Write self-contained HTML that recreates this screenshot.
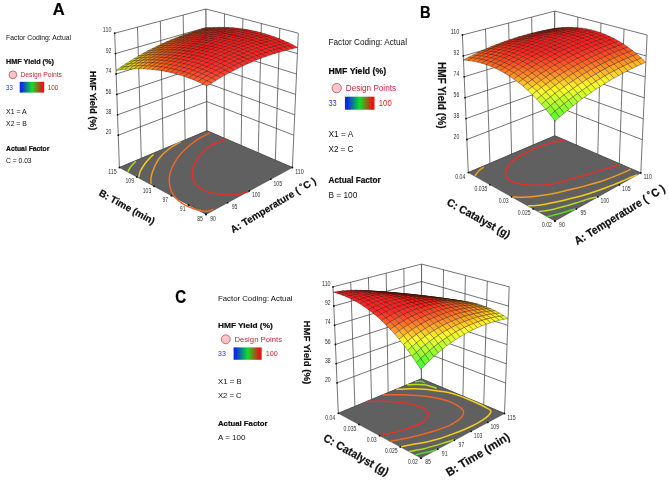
<!DOCTYPE html>
<html lang="en"><head><meta charset="utf-8"><title>HMF Yield response surfaces</title>
<style>html,body{margin:0;padding:0;background:#fff}svg{display:block}</style></head>
<body>
<svg width="669" height="481" viewBox="0 0 669 481" font-family='"Liberation Sans", sans-serif'>
<defs><linearGradient id="lg" x1="0" x2="1" y1="0" y2="0"><stop offset="0" stop-color="#0a2ae6"/><stop offset="0.08" stop-color="#0a2ae6"/><stop offset="0.5" stop-color="#10e028"/><stop offset="0.92" stop-color="#e61414"/><stop offset="1" stop-color="#e61414"/></linearGradient><filter id="soft" x="0" y="0" width="669" height="481" filterUnits="userSpaceOnUse"><feGaussianBlur stdDeviation="0.38"/></filter></defs>
<rect width="669" height="481" fill="#fff"/>
<g filter="url(#soft)">
<polygon points="119.4,167.5 207,130.8 206,9 114.7,33.2" fill="#fff" stroke="#3a3a3a" stroke-width="0.7"/>
<polygon points="207,130.8 292.4,167.5 298.3,33.2 206,9" fill="#fff" stroke="#3a3a3a" stroke-width="0.7"/>
<path d="M141.3 158.32L137.53 27.15M163.2 149.15L160.35 21.1M185.1 139.98L183.18 15.05M275.32 160.16L279.84 28.36M258.24 152.82L261.38 23.52M241.16 145.48L242.92 18.68M224.08 138.14L224.46 13.84M115.41 53.6L206.15 27.5L297.4 53.6M116.13 74L206.3 46L296.51 74M116.84 94.4L206.46 64.5L295.61 94.4M117.56 114.8L206.61 83.01L294.72 114.8M118.27 135.2L206.76 101.51L293.82 135.2" fill="none" stroke="#3a3a3a" stroke-width="0.7"/>
<polygon points="206,214.4 292.4,167.5 207,130.8 119.4,167.5" fill="#606060" stroke="#3a3a3a" stroke-width="0.5"/>
<path d="M127.8 171.6C128.37 170.68 129.87 167.82 131.2 166.1C132.53 164.38 135.03 162.1 135.8 161.3" fill="none" stroke="#b4dc22" stroke-width="1.5" stroke-linecap="butt"/>
<path d="M138.7 177.2C138.95 176.25 139.37 173.45 140.2 171.5C141.03 169.55 142.37 167.45 143.7 165.5C145.03 163.55 146.57 161.65 148.2 159.8C149.83 157.95 152.62 155.3 153.5 154.4" fill="none" stroke="#f2cc1c" stroke-width="1.5" stroke-linecap="butt"/>
<path d="M151.2 183.8C151.17 182.92 150.77 180.55 151 178.5C151.23 176.45 151.52 174.45 152.6 171.5C153.68 168.55 155.85 163.62 157.5 160.8C159.15 157.98 160.68 156.48 162.5 154.6C164.32 152.72 166.48 151 168.4 149.5C170.32 148 171.93 146.87 174 145.6C176.07 144.33 179.67 142.52 180.8 141.9" fill="none" stroke="#f29a20" stroke-width="1.5" stroke-linecap="butt"/>
<path d="M209.8 132.9C208.42 133.62 204.12 135.72 201.5 137.2C198.88 138.68 196.6 140 194.1 141.8C191.6 143.6 188.82 145.87 186.5 148C184.18 150.13 182.12 152.27 180.2 154.6C178.28 156.93 176.48 159.52 175 162C173.52 164.48 172.23 167 171.3 169.5C170.37 172 169.7 174.58 169.4 177C169.1 179.42 169.15 181.58 169.5 184C169.85 186.42 170.5 189.2 171.5 191.5C172.5 193.8 173.72 195.83 175.5 197.8C177.28 199.77 179.78 201.72 182.2 203.3C184.62 204.88 187.37 206.18 190 207.3C192.63 208.42 195.5 209.33 198 210C200.5 210.67 203.08 211.17 205 211.3C206.92 211.43 208.08 211.25 209.5 210.8C210.92 210.35 212.83 208.97 213.5 208.6" fill="none" stroke="#ee6428" stroke-width="1.5" stroke-linecap="butt"/>
<path d="M225.7 139.2C223.92 139.92 218.13 141.98 215 143.5C211.87 145.02 209.23 146.58 206.9 148.3C204.57 150.02 202.8 151.7 201 153.8C199.2 155.9 197.4 158.7 196.1 160.9C194.8 163.1 193.85 164.92 193.2 167C192.55 169.08 192.2 171.32 192.2 173.4C192.2 175.48 192.55 177.67 193.2 179.5C193.85 181.33 194.88 182.93 196.1 184.4C197.32 185.87 198.7 187.13 200.5 188.3C202.3 189.47 204.48 190.53 206.9 191.4C209.32 192.27 212.02 192.95 215 193.5C217.98 194.05 221.8 194.48 224.8 194.7C227.8 194.92 230.3 194.95 233 194.8C235.7 194.65 238.32 194.4 241 193.8C243.68 193.2 247.75 191.63 249.1 191.2" fill="none" stroke="#e0302c" stroke-width="1.5" stroke-linecap="butt"/>
<g stroke="#1c0c04" stroke-opacity="0.72" stroke-width="0.45" stroke-linejoin="round">
<polygon points="206.17,28.82 210.71,27.59 206.16,27.92 201.62,29.16" fill="#cb521a"/>
<polygon points="201.63,30.13 206.17,28.82 201.62,29.16 197.08,30.49" fill="#cc521a"/>
<polygon points="210.73,28.6 215.27,27.39 210.71,27.59 206.17,28.82" fill="#ce431a"/>
<polygon points="197.09,31.53 201.63,30.13 197.08,30.49 192.55,31.9" fill="#cd531a"/>
<polygon points="206.19,29.89 210.73,28.6 206.17,28.82 201.63,30.13" fill="#d0431a"/>
<polygon points="215.3,28.5 219.84,27.31 215.27,27.39 210.73,28.6" fill="#d2361a"/>
<polygon points="192.56,33.01 197.09,31.53 192.55,31.9 188.01,33.4" fill="#cf551a"/>
<polygon points="201.65,31.28 206.19,29.89 201.63,30.13 197.09,31.53" fill="#d1431a"/>
<polygon points="210.76,29.79 215.3,28.5 210.73,28.6 206.19,29.89" fill="#d4361a"/>
<polygon points="219.88,28.54 224.42,27.36 219.84,27.31 215.3,28.5" fill="#d62c1a"/>
<polygon points="188.02,34.59 192.56,33.01 188.01,33.4 183.48,34.99" fill="#d0581a"/>
<polygon points="197.11,32.75 201.65,31.28 197.09,31.53 192.56,33.01" fill="#d3451a"/>
<polygon points="206.22,31.15 210.76,29.79 206.19,29.89 201.65,31.28" fill="#d5361a"/>
<polygon points="215.33,29.81 219.88,28.54 215.3,28.5 210.76,29.79" fill="#d82b1a"/>
<polygon points="224.46,28.71 229,27.54 224.42,27.36 219.88,28.54" fill="#da231a"/>
<polygon points="183.49,36.25 188.02,34.59 183.48,34.99 178.95,36.67" fill="#d15b1a"/>
<polygon points="192.57,34.31 197.11,32.75 192.56,33.01 188.02,34.59" fill="#d4471a"/>
<polygon points="201.68,32.61 206.22,31.15 201.65,31.28 197.11,32.75" fill="#d7371a"/>
<polygon points="210.79,31.16 215.33,29.81 210.76,29.79 206.22,31.15" fill="#d92b1a"/>
<polygon points="219.92,29.96 224.46,28.71 219.88,28.54 215.33,29.81" fill="#db221a"/>
<polygon points="229.05,29.01 233.59,27.86 229,27.54 224.46,28.71" fill="#de1d1a"/>
<polygon points="178.96,38.01 183.49,36.25 178.95,36.67 174.43,38.44" fill="#d2601a"/>
<polygon points="188.04,35.96 192.57,34.31 188.02,34.59 183.49,36.25" fill="#d54a1a"/>
<polygon points="197.14,34.16 201.68,32.61 197.11,32.75 192.57,34.31" fill="#d8391a"/>
<polygon points="206.25,32.6 210.79,31.16 206.22,31.15 201.68,32.61" fill="#da2b1a"/>
<polygon points="215.37,31.3 219.92,29.96 215.33,29.81 210.79,31.16" fill="#dd221a"/>
<polygon points="224.5,30.25 229.05,29.01 224.46,28.71 219.92,29.96" fill="#df1c1a"/>
<polygon points="233.64,29.45 238.18,28.31 233.59,27.86 229.05,29.01" fill="#e11a1a"/>
<polygon points="174.43,39.86 178.96,38.01 174.43,38.44 169.9,40.31" fill="#d3661a"/>
<polygon points="183.5,37.7 188.04,35.96 183.49,36.25 178.96,38.01" fill="#d64e1a"/>
<polygon points="192.6,35.79 197.14,34.16 192.57,34.31 188.04,35.96" fill="#d93b1a"/>
<polygon points="201.71,34.13 206.25,32.6 201.68,32.61 197.14,34.16" fill="#dc2d1a"/>
<polygon points="210.83,32.73 215.37,31.3 210.79,31.16 206.25,32.6" fill="#de221a"/>
<polygon points="219.96,31.57 224.5,30.25 219.92,29.96 215.37,31.3" fill="#e11c1a"/>
<polygon points="229.1,30.67 233.64,29.45 229.05,29.01 224.5,30.25" fill="#e31a1a"/>
<polygon points="238.24,30.02 242.78,28.89 238.18,28.31 233.64,29.45" fill="#e51a1a"/>
<polygon points="169.91,41.81 174.43,39.86 169.9,40.31 165.38,42.27" fill="#d46d1a"/>
<polygon points="178.97,39.54 183.5,37.7 178.96,38.01 174.43,39.86" fill="#d7541a"/>
<polygon points="188.06,37.52 192.6,35.79 188.04,35.96 183.5,37.7" fill="#da3f1a"/>
<polygon points="197.16,35.76 201.71,34.13 197.14,34.16 192.6,35.79" fill="#dd2f1a"/>
<polygon points="206.28,34.25 210.83,32.73 206.25,32.6 201.71,34.13" fill="#e0231a"/>
<polygon points="215.41,32.99 219.96,31.57 215.37,31.3 210.83,32.73" fill="#e21c1a"/>
<polygon points="224.55,31.98 229.1,30.67 224.5,30.25 219.96,31.57" fill="#e41a1a"/>
<polygon points="233.69,31.23 238.24,30.02 233.64,29.45 229.1,30.67" fill="#e61a1a"/>
<polygon points="242.83,30.73 247.37,29.62 242.78,28.89 238.24,30.02" fill="#e81a1a"/>
<polygon points="165.39,43.85 169.91,41.81 165.38,42.27 160.87,44.32" fill="#d6761a"/>
<polygon points="174.45,41.47 178.97,39.54 174.43,39.86 169.91,41.81" fill="#d95a1a"/>
<polygon points="183.53,39.35 188.06,37.52 183.5,37.7 178.97,39.54" fill="#dc431a"/>
<polygon points="192.62,37.47 197.16,35.76 192.6,35.79 188.06,37.52" fill="#de321a"/>
<polygon points="201.74,35.86 206.28,34.25 201.71,34.13 197.16,35.76" fill="#e1241a"/>
<polygon points="210.87,34.49 215.41,32.99 210.83,32.73 206.28,34.25" fill="#e41c1a"/>
<polygon points="220,33.38 224.55,31.98 219.96,31.57 215.41,32.99" fill="#e61a1a"/>
<polygon points="229.14,32.53 233.69,31.23 229.1,30.67 224.55,31.98" fill="#e81a1a"/>
<polygon points="238.29,31.93 242.83,30.73 238.24,30.02 233.69,31.23" fill="#ea1a1a"/>
<polygon points="247.43,31.59 251.97,30.49 247.37,29.62 242.83,30.73" fill="#ec1a1a"/>
<polygon points="160.87,45.99 165.39,43.85 160.87,44.32 156.35,46.47" fill="#d7801a"/>
<polygon points="169.92,43.5 174.45,41.47 169.91,41.81 165.39,43.85" fill="#da621a"/>
<polygon points="178.99,41.26 183.53,39.35 178.97,39.54 174.45,41.47" fill="#dd491a"/>
<polygon points="188.09,39.28 192.62,37.47 188.06,37.52 183.53,39.35" fill="#e0351a"/>
<polygon points="197.2,37.56 201.74,35.86 197.16,35.76 192.62,37.47" fill="#e2271a"/>
<polygon points="206.32,36.09 210.87,34.49 206.28,34.25 201.74,35.86" fill="#e51d1a"/>
<polygon points="215.46,34.88 220,33.38 215.41,32.99 210.87,34.49" fill="#e71a1a"/>
<polygon points="224.6,33.92 229.14,32.53 224.55,31.98 220,33.38" fill="#e91a1a"/>
<polygon points="233.74,33.22 238.29,31.93 233.69,31.23 229.14,32.53" fill="#eb1a1a"/>
<polygon points="242.89,32.78 247.43,31.59 242.83,30.73 238.29,31.93" fill="#ed1a1a"/>
<polygon points="252.03,32.59 256.57,31.5 251.97,30.49 247.43,31.59" fill="#ef1a1a"/>
<polygon points="156.36,48.22 160.87,45.99 156.35,46.47 151.85,48.72" fill="#d88b1a"/>
<polygon points="165.4,45.63 169.92,43.5 165.39,43.85 160.87,45.99" fill="#db6b1a"/>
<polygon points="174.46,43.28 178.99,41.26 174.45,41.47 169.92,43.5" fill="#de501a"/>
<polygon points="183.55,41.19 188.09,39.28 183.53,39.35 178.99,41.26" fill="#e13a1a"/>
<polygon points="192.66,39.36 197.2,37.56 192.62,37.47 188.09,39.28" fill="#e42a1a"/>
<polygon points="201.78,37.78 206.32,36.09 201.74,35.86 197.2,37.56" fill="#e61f1a"/>
<polygon points="210.91,36.46 215.46,34.88 210.87,34.49 206.32,36.09" fill="#e91a1a"/>
<polygon points="220.05,35.4 224.6,33.92 220,33.38 215.46,34.88" fill="#eb1a1a"/>
<polygon points="229.19,34.6 233.74,33.22 229.14,32.53 224.6,33.92" fill="#ed1a1a"/>
<polygon points="238.34,34.05 242.89,32.78 238.29,31.93 233.74,33.22" fill="#ef1a1a"/>
<polygon points="247.48,33.77 252.03,32.59 247.43,31.59 242.89,32.78" fill="#f11a1a"/>
<polygon points="256.62,33.74 261.16,32.66 256.57,31.5 252.03,32.59" fill="#f21a1a"/>
<polygon points="151.85,50.56 156.36,48.22 151.85,48.72 147.35,51.08" fill="#d9971a"/>
<polygon points="160.88,47.85 165.4,45.63 160.87,45.99 156.36,48.22" fill="#dc751a"/>
<polygon points="169.94,45.39 174.46,43.28 169.92,43.5 165.4,45.63" fill="#df581a"/>
<polygon points="179.02,43.19 183.55,41.19 178.99,41.26 174.46,43.28" fill="#e2401a"/>
<polygon points="188.12,41.25 192.66,39.36 188.09,39.28 183.55,41.19" fill="#e52e1a"/>
<polygon points="197.23,39.57 201.78,37.78 197.2,37.56 192.66,39.36" fill="#e7211a"/>
<polygon points="206.36,38.14 210.91,36.46 206.32,36.09 201.78,37.78" fill="#ea1a1a"/>
<polygon points="215.5,36.97 220.05,35.4 215.46,34.88 210.91,36.46" fill="#ec1a1a"/>
<polygon points="224.65,36.07 229.19,34.6 224.6,33.92 220.05,35.4" fill="#ef1a1a"/>
<polygon points="233.79,35.42 238.34,34.05 233.74,33.22 229.19,34.6" fill="#f01a1a"/>
<polygon points="242.94,35.03 247.48,33.77 242.89,32.78 238.34,34.05" fill="#f21a1a"/>
<polygon points="252.08,34.9 256.62,33.74 252.03,32.59 247.48,33.77" fill="#f41a1a"/>
<polygon points="261.21,35.04 265.75,33.97 261.16,32.66 256.62,33.74" fill="#f51a1a"/>
<polygon points="147.35,53 151.85,50.56 147.35,51.08 142.85,53.53" fill="#d9a61a"/>
<polygon points="156.37,50.18 160.88,47.85 156.36,48.22 151.85,50.56" fill="#dd811a"/>
<polygon points="165.42,47.61 169.94,45.39 165.4,45.63 160.88,47.85" fill="#e0611a"/>
<polygon points="174.49,45.29 179.02,43.19 174.46,43.28 169.94,45.39" fill="#e3471a"/>
<polygon points="183.58,43.24 188.12,41.25 183.55,41.19 179.02,43.19" fill="#e6331a"/>
<polygon points="192.69,41.45 197.23,39.57 192.66,39.36 188.12,41.25" fill="#e9241a"/>
<polygon points="201.82,39.91 206.36,38.14 201.78,37.78 197.23,39.57" fill="#eb1b1a"/>
<polygon points="210.95,38.64 215.5,36.97 210.91,36.46 206.36,38.14" fill="#ee1a1a"/>
<polygon points="220.1,37.63 224.65,36.07 220.05,35.4 215.5,36.97" fill="#f01a1a"/>
<polygon points="229.24,36.88 233.79,35.42 229.19,34.6 224.65,36.07" fill="#f21a1a"/>
<polygon points="238.39,36.39 242.94,35.03 238.34,34.05 233.79,35.42" fill="#f41a1a"/>
<polygon points="247.54,36.16 252.08,34.9 247.48,33.77 242.94,35.03" fill="#f51a1a"/>
<polygon points="256.67,36.19 261.21,35.04 256.62,33.74 252.08,34.9" fill="#f71a1a"/>
<polygon points="265.8,36.48 270.33,35.43 265.75,33.97 261.21,35.04" fill="#f81a1a"/>
<polygon points="142.85,55.54 147.35,53 142.85,53.53 138.36,56.08" fill="#dab61a"/>
<polygon points="151.86,52.6 156.37,50.18 151.85,50.56 147.35,53" fill="#de8e1a"/>
<polygon points="160.9,49.92 165.42,47.61 160.88,47.85 156.37,50.18" fill="#e16c1a"/>
<polygon points="169.96,47.5 174.49,45.29 169.94,45.39 165.42,47.61" fill="#e4501a"/>
<polygon points="179.05,45.33 183.58,43.24 179.02,43.19 174.49,45.29" fill="#e7391a"/>
<polygon points="188.15,43.42 192.69,41.45 188.12,41.25 183.58,43.24" fill="#ea281a"/>
<polygon points="197.28,41.78 201.82,39.91 197.23,39.57 192.69,41.45" fill="#ed1d1a"/>
<polygon points="206.41,40.4 210.95,38.64 206.36,38.14 201.82,39.91" fill="#ef1a1a"/>
<polygon points="215.55,39.28 220.1,37.63 215.5,36.97 210.95,38.64" fill="#f11a1a"/>
<polygon points="224.7,38.42 229.24,36.88 224.65,36.07 220.1,37.63" fill="#f31a1a"/>
<polygon points="233.84,37.83 238.39,36.39 233.79,35.42 229.24,36.88" fill="#f51a1a"/>
<polygon points="242.99,37.5 247.54,36.16 242.94,35.03 238.39,36.39" fill="#f71a1a"/>
<polygon points="252.13,37.43 256.67,36.19 252.08,34.9 247.54,36.16" fill="#f91a1a"/>
<polygon points="261.26,37.63 265.8,36.48 261.21,35.04 256.67,36.19" fill="#fa1a1a"/>
<polygon points="270.38,38.08 274.91,37.04 270.33,35.43 265.8,36.48" fill="#fb1a1a"/>
<polygon points="138.36,58.19 142.85,55.54 138.36,56.08 133.87,58.74" fill="#dbc71a"/>
<polygon points="147.36,55.13 151.86,52.6 147.35,53 142.85,55.54" fill="#df9d1a"/>
<polygon points="156.39,52.34 160.9,49.92 156.37,50.18 151.86,52.6" fill="#e2791a"/>
<polygon points="165.44,49.8 169.96,47.5 165.42,47.61 160.9,49.92" fill="#e55a1a"/>
<polygon points="174.52,47.52 179.05,45.33 174.49,45.29 169.96,47.5" fill="#e8411a"/>
<polygon points="183.62,45.5 188.15,43.42 183.58,43.24 179.05,45.33" fill="#eb2e1a"/>
<polygon points="192.73,43.75 197.28,41.78 192.69,41.45 188.15,43.42" fill="#ee201a"/>
<polygon points="201.86,42.26 206.41,40.4 201.82,39.91 197.28,41.78" fill="#f01a1a"/>
<polygon points="211,41.03 215.55,39.28 210.95,38.64 206.41,40.4" fill="#f31a1a"/>
<polygon points="220.15,40.07 224.7,38.42 220.1,37.63 215.55,39.28" fill="#f51a1a"/>
<polygon points="229.29,39.37 233.84,37.83 229.24,36.88 224.7,38.42" fill="#f71a1a"/>
<polygon points="238.44,38.93 242.99,37.5 238.39,36.39 233.84,37.83" fill="#f91a1a"/>
<polygon points="247.59,38.77 252.13,37.43 247.54,36.16 242.99,37.5" fill="#fa1a1a"/>
<polygon points="256.72,38.86 261.26,37.63 256.67,36.19 252.13,37.43" fill="#fc1a1a"/>
<polygon points="265.85,39.22 270.38,38.08 265.8,36.48 261.26,37.63" fill="#fd1a1a"/>
<polygon points="274.96,39.84 279.48,38.8 274.91,37.04 270.38,38.08" fill="#fd1a1a"/>
<polygon points="133.88,60.94 138.36,58.19 133.87,58.74 129.39,61.5" fill="#dcdb1a"/>
<polygon points="142.86,57.77 147.36,55.13 142.85,55.54 138.36,58.19" fill="#dfae1a"/>
<polygon points="151.88,54.86 156.39,52.34 151.86,52.6 147.36,55.13" fill="#e3871a"/>
<polygon points="160.93,52.2 165.44,49.8 160.9,49.92 156.39,52.34" fill="#e6651a"/>
<polygon points="169.99,49.81 174.52,47.52 169.96,47.5 165.44,49.8" fill="#e94a1a"/>
<polygon points="179.09,47.68 183.62,45.5 179.05,45.33 174.52,47.52" fill="#ec341a"/>
<polygon points="188.19,45.81 192.73,43.75 188.15,43.42 183.62,45.5" fill="#ef241a"/>
<polygon points="197.32,44.21 201.86,42.26 197.28,41.78 192.73,43.75" fill="#f21a1a"/>
<polygon points="206.45,42.88 211,41.03 206.41,40.4 201.86,42.26" fill="#f41a1a"/>
<polygon points="215.6,41.81 220.15,40.07 215.55,39.28 211,41.03" fill="#f61a1a"/>
<polygon points="224.74,41 229.29,39.37 224.7,38.42 220.15,40.07" fill="#f81a1a"/>
<polygon points="233.89,40.46 238.44,38.93 233.84,37.83 229.29,39.37" fill="#fa1a1a"/>
<polygon points="243.04,40.19 247.59,38.77 242.99,37.5 238.44,38.93" fill="#fc1a1a"/>
<polygon points="252.18,40.18 256.72,38.86 252.13,37.43 247.59,38.77" fill="#fd1a1a"/>
<polygon points="261.31,40.44 265.85,39.22 261.26,37.63 256.72,38.86" fill="#fe1a1a"/>
<polygon points="270.43,40.96 274.96,39.84 270.38,38.08 265.85,39.22" fill="#ff1a1a"/>
<polygon points="279.52,41.75 284.05,40.72 279.48,38.8 274.96,39.84" fill="#ff1a1a"/>
<polygon points="129.4,63.8 133.88,60.94 129.39,61.5 124.92,64.37" fill="#cedd1a"/>
<polygon points="138.37,60.51 142.86,57.77 138.36,58.19 133.88,60.94" fill="#e0c11a"/>
<polygon points="147.38,57.48 151.88,54.86 147.36,55.13 142.86,57.77" fill="#e4971a"/>
<polygon points="156.41,54.71 160.93,52.2 156.39,52.34 151.88,54.86" fill="#e7721a"/>
<polygon points="165.47,52.2 169.99,49.81 165.44,49.8 160.93,52.2" fill="#ea541a"/>
<polygon points="174.56,49.96 179.09,47.68 174.52,47.52 169.99,49.81" fill="#ed3c1a"/>
<polygon points="183.66,47.98 188.19,45.81 183.62,45.5 179.09,47.68" fill="#f02a1a"/>
<polygon points="192.78,46.27 197.32,44.21 192.73,43.75 188.19,45.81" fill="#f31d1a"/>
<polygon points="201.91,44.82 206.45,42.88 201.86,42.26 197.32,44.21" fill="#f51a1a"/>
<polygon points="211.05,43.64 215.6,41.81 211,41.03 206.45,42.88" fill="#f81a1a"/>
<polygon points="220.19,42.73 224.74,41 220.15,40.07 215.6,41.81" fill="#fa1a1a"/>
<polygon points="229.34,42.08 233.89,40.46 229.29,39.37 224.74,41" fill="#fc1a1a"/>
<polygon points="238.49,41.71 243.04,40.19 238.44,38.93 233.89,40.46" fill="#fd1a1a"/>
<polygon points="247.63,41.6 252.18,40.18 247.59,38.77 243.04,40.19" fill="#ff1a1a"/>
<polygon points="256.77,41.76 261.31,40.44 256.72,38.86 252.18,40.18" fill="#ff1a1a"/>
<polygon points="265.89,42.18 270.43,40.96 265.85,39.22 261.31,40.44" fill="#ff1b1b"/>
<polygon points="275,42.87 279.52,41.75 274.96,39.84 270.43,40.96" fill="#ff1c1c"/>
<polygon points="284.08,43.82 288.6,42.8 284.05,40.72 279.52,41.75" fill="#ff1c1c"/>
<polygon points="124.93,66.76 129.4,63.8 124.92,64.37 120.46,67.34" fill="#bfdd1a"/>
<polygon points="133.89,63.36 138.37,60.51 133.88,60.94 129.4,63.8" fill="#e1d51a"/>
<polygon points="142.88,60.21 147.38,57.48 142.86,57.77 138.37,60.51" fill="#e4a81a"/>
<polygon points="151.91,57.32 156.41,54.71 151.88,54.86 147.38,57.48" fill="#e8811a"/>
<polygon points="160.96,54.7 165.47,52.2 160.93,52.2 156.41,54.71" fill="#eb611a"/>
<polygon points="170.03,52.34 174.56,49.96 169.99,49.81 165.47,52.2" fill="#ee461a"/>
<polygon points="179.12,50.25 183.66,47.98 179.09,47.68 174.56,49.96" fill="#f1311a"/>
<polygon points="188.24,48.42 192.78,46.27 188.19,45.81 183.66,47.98" fill="#f4221a"/>
<polygon points="197.36,46.86 201.91,44.82 197.32,44.21 192.78,46.27" fill="#f71a1a"/>
<polygon points="206.5,45.57 211.05,43.64 206.45,42.88 201.91,44.82" fill="#f91a1a"/>
<polygon points="215.64,44.55 220.19,42.73 215.6,41.81 211.05,43.64" fill="#fb1a1a"/>
<polygon points="224.79,43.8 229.34,42.08 224.74,41 220.19,42.73" fill="#fd1a1a"/>
<polygon points="233.94,43.32 238.49,41.71 233.89,40.46 229.34,42.08" fill="#ff1a1a"/>
<polygon points="243.09,43.11 247.63,41.6 243.04,40.19 238.49,41.71" fill="#ff1b1b"/>
<polygon points="252.22,43.16 256.77,41.76 252.18,40.18 247.63,41.6" fill="#ff1b1b"/>
<polygon points="261.35,43.49 265.89,42.18 261.31,40.44 256.77,41.76" fill="#ff1c1c"/>
<polygon points="270.46,44.08 275,42.87 270.43,40.96 265.89,42.18" fill="#ff1d1d"/>
<polygon points="279.56,44.93 284.08,43.82 279.52,41.75 275,42.87" fill="#ff1d1d"/>
<polygon points="288.63,46.06 293.14,45.04 288.6,42.8 284.08,43.82" fill="#ff1f1d"/>
<polygon points="120.46,69.84 124.93,66.76 120.46,67.34 116,70.43" fill="#aede1a"/>
<polygon points="129.41,66.31 133.89,63.36 129.4,63.8 124.93,66.76" fill="#dae21a"/>
<polygon points="138.39,63.05 142.88,60.21 138.37,60.51 133.89,63.36" fill="#e5bc1a"/>
<polygon points="147.4,60.04 151.91,57.32 147.38,57.48 142.88,60.21" fill="#e9921a"/>
<polygon points="156.44,57.3 160.96,54.7 156.41,54.71 151.91,57.32" fill="#ec6e1a"/>
<polygon points="165.51,54.83 170.03,52.34 165.47,52.2 160.96,54.7" fill="#ef511a"/>
<polygon points="174.59,52.62 179.12,50.25 174.56,49.96 170.03,52.34" fill="#f2391a"/>
<polygon points="183.7,50.68 188.24,48.42 183.66,47.98 179.12,50.25" fill="#f5281a"/>
<polygon points="192.82,49.01 197.36,46.86 192.78,46.27 188.24,48.42" fill="#f81c1a"/>
<polygon points="201.95,47.61 206.5,45.57 201.91,44.82 197.36,46.86" fill="#fa1a1a"/>
<polygon points="211.09,46.48 215.64,44.55 211.05,43.64 206.5,45.57" fill="#fd1a1a"/>
<polygon points="220.24,45.62 224.79,43.8 220.19,42.73 215.64,44.55" fill="#ff1a1a"/>
<polygon points="229.39,45.03 233.94,43.32 229.34,42.08 224.79,43.8" fill="#ff1b1b"/>
<polygon points="238.54,44.71 243.09,43.11 238.49,41.71 233.94,43.32" fill="#ff1c1c"/>
<polygon points="247.68,44.66 252.22,43.16 247.63,41.6 243.09,43.11" fill="#ff1d1d"/>
<polygon points="256.81,44.88 261.35,43.49 256.77,41.76 252.22,43.16" fill="#ff1d1d"/>
<polygon points="265.93,45.37 270.46,44.08 265.89,42.18 261.35,43.49" fill="#ff1e1e"/>
<polygon points="275.03,46.13 279.56,44.93 275,42.87 270.46,44.08" fill="#ff1f1f"/>
<polygon points="284.11,47.16 288.63,46.06 284.08,43.82 279.56,44.93" fill="#ff1f1f"/>
<polygon points="293.17,48.46 297.67,47.45 293.14,45.04 288.63,46.06" fill="#ff261f"/>
<polygon points="124.94,69.38 129.41,66.31 124.93,66.76 120.46,69.84" fill="#c9e21a"/>
<polygon points="133.91,65.99 138.39,63.05 133.89,63.36 129.41,66.31" fill="#e6d21a"/>
<polygon points="142.91,62.87 147.4,60.04 142.88,60.21 138.39,63.05" fill="#e9a51a"/>
<polygon points="151.94,60.01 156.44,57.3 151.91,57.32 147.4,60.04" fill="#ed7e1a"/>
<polygon points="160.99,57.42 165.51,54.83 160.96,54.7 156.44,57.3" fill="#f05e1a"/>
<polygon points="170.07,55.1 174.59,52.62 170.03,52.34 165.51,54.83" fill="#f3431a"/>
<polygon points="179.17,53.04 183.7,50.68 179.12,50.25 174.59,52.62" fill="#f62f1a"/>
<polygon points="188.28,51.26 192.82,49.01 188.24,48.42 183.7,50.68" fill="#f9211a"/>
<polygon points="197.41,49.74 201.95,47.61 197.36,46.86 192.82,49.01" fill="#fb1a1a"/>
<polygon points="206.55,48.5 211.09,46.48 206.5,45.57 201.95,47.61" fill="#fe1a1a"/>
<polygon points="215.69,47.53 220.24,45.62 215.64,44.55 211.09,46.48" fill="#ff1a1a"/>
<polygon points="224.84,46.83 229.39,45.03 224.79,43.8 220.24,45.62" fill="#ff1c1c"/>
<polygon points="233.99,46.41 238.54,44.71 233.94,43.32 229.39,45.03" fill="#ff1d1d"/>
<polygon points="243.13,46.25 247.68,44.66 243.09,43.11 238.54,44.71" fill="#ff1e1e"/>
<polygon points="252.27,46.37 256.81,44.88 252.22,43.16 247.68,44.66" fill="#ff1f1f"/>
<polygon points="261.39,46.76 265.93,45.37 261.35,43.49 256.81,44.88" fill="#ff1f1f"/>
<polygon points="270.5,47.42 275.03,46.13 270.46,44.08 265.93,45.37" fill="#ff2020"/>
<polygon points="279.59,48.36 284.11,47.16 279.56,44.93 275.03,46.13" fill="#ff2020"/>
<polygon points="288.65,49.55 293.17,48.46 288.63,46.06 284.11,47.16" fill="#ff2420"/>
<polygon points="129.43,69.05 133.91,65.99 129.41,66.31 124.94,69.38" fill="#e4e71a"/>
<polygon points="138.42,65.81 142.91,62.87 138.39,63.05 133.91,65.99" fill="#eaba1a"/>
<polygon points="147.44,62.83 151.94,60.01 147.4,60.04 142.91,62.87" fill="#ee901a"/>
<polygon points="156.48,60.12 160.99,57.42 156.44,57.3 151.94,60.01" fill="#f16d1a"/>
<polygon points="165.55,57.68 170.07,55.1 165.51,54.83 160.99,57.42" fill="#f44f1a"/>
<polygon points="174.64,55.51 179.17,53.04 174.59,52.62 170.07,55.1" fill="#f7381a"/>
<polygon points="183.74,53.61 188.28,51.26 183.7,50.68 179.17,53.04" fill="#fa271a"/>
<polygon points="192.87,51.98 197.41,49.74 192.82,49.01 188.28,51.26" fill="#fd1c1a"/>
<polygon points="202,50.63 206.55,48.5 201.95,47.61 197.41,49.74" fill="#ff1a1a"/>
<polygon points="211.14,49.55 215.69,47.53 211.09,46.48 206.55,48.5" fill="#ff1b1b"/>
<polygon points="220.29,48.74 224.84,46.83 220.24,45.62 215.69,47.53" fill="#ff1c1c"/>
<polygon points="229.44,48.2 233.99,46.41 229.39,45.03 224.84,46.83" fill="#ff1e1e"/>
<polygon points="238.58,47.95 243.13,46.25 238.54,44.71 233.99,46.41" fill="#ff1f1f"/>
<polygon points="247.72,47.96 252.27,46.37 247.68,44.66 243.13,46.25" fill="#ff2020"/>
<polygon points="256.85,48.25 261.39,46.76 256.81,44.88 252.27,46.37" fill="#ff2121"/>
<polygon points="265.96,48.81 270.5,47.42 265.93,45.37 261.39,46.76" fill="#ff2121"/>
<polygon points="275.06,49.64 279.59,48.36 275.03,46.13 270.5,47.42" fill="#ff2222"/>
<polygon points="284.13,50.74 288.65,49.55 284.11,47.16 279.59,48.36" fill="#ff2322"/>
<polygon points="133.94,68.85 138.42,65.81 133.91,65.99 129.43,69.05" fill="#ebd11a"/>
<polygon points="142.94,65.76 147.44,62.83 142.91,62.87 138.42,65.81" fill="#eea41a"/>
<polygon points="151.97,62.93 156.48,60.12 151.94,60.01 147.44,62.83" fill="#f27d1a"/>
<polygon points="161.03,60.37 165.55,57.68 160.99,57.42 156.48,60.12" fill="#f55d1a"/>
<polygon points="170.11,58.08 174.64,55.51 170.07,55.1 165.55,57.68" fill="#f8431a"/>
<polygon points="179.21,56.06 183.74,53.61 179.17,53.04 174.64,55.51" fill="#fb2f1a"/>
<polygon points="188.33,54.32 192.87,51.98 188.28,51.26 183.74,53.61" fill="#fe211a"/>
<polygon points="197.46,52.85 202,50.63 197.41,49.74 192.87,51.98" fill="#ff1a1a"/>
<polygon points="206.59,51.66 211.14,49.55 206.55,48.5 202,50.63" fill="#ff1c1c"/>
<polygon points="215.74,50.74 220.29,48.74 215.69,47.53 211.14,49.55" fill="#ff1d1d"/>
<polygon points="224.89,50.1 229.44,48.2 224.84,46.83 220.29,48.74" fill="#ff1f1f"/>
<polygon points="234.03,49.73 238.58,47.95 233.99,46.41 229.44,48.2" fill="#ff2020"/>
<polygon points="243.17,49.64 247.72,47.96 243.13,46.25 238.58,47.95" fill="#ff2121"/>
<polygon points="252.3,49.83 256.85,48.25 252.27,46.37 247.72,47.96" fill="#ff2222"/>
<polygon points="261.42,50.28 265.96,48.81 261.39,46.76 256.85,48.25" fill="#ff2222"/>
<polygon points="270.53,51.01 275.06,49.64 270.5,47.42 265.96,48.81" fill="#ff2323"/>
<polygon points="279.61,52.02 284.13,50.74 279.59,48.36 275.06,49.64" fill="#ff2323"/>
<polygon points="138.45,68.79 142.94,65.76 138.42,65.81 133.94,68.85" fill="#efba1a"/>
<polygon points="147.47,65.85 151.97,62.93 147.44,62.83 142.94,65.76" fill="#f3901a"/>
<polygon points="156.52,63.17 161.03,60.37 156.48,60.12 151.97,62.93" fill="#f66d1a"/>
<polygon points="165.59,60.76 170.11,58.08 165.55,57.68 161.03,60.37" fill="#f9501a"/>
<polygon points="174.68,58.63 179.21,56.06 174.64,55.51 170.11,58.08" fill="#fc391a"/>
<polygon points="183.79,56.77 188.33,54.32 183.74,53.61 179.21,56.06" fill="#ff271a"/>
<polygon points="192.91,55.19 197.46,52.85 192.87,51.98 188.33,54.32" fill="#ff1e1b"/>
<polygon points="202.05,53.88 206.59,51.66 202,50.63 197.46,52.85" fill="#ff1d1d"/>
<polygon points="211.19,52.85 215.74,50.74 211.14,49.55 206.59,51.66" fill="#ff1e1e"/>
<polygon points="220.33,52.1 224.89,50.1 220.29,48.74 215.74,50.74" fill="#ff2020"/>
<polygon points="229.48,51.62 234.03,49.73 229.44,48.2 224.89,50.1" fill="#ff2121"/>
<polygon points="238.62,51.42 243.17,49.64 238.58,47.95 234.03,49.73" fill="#ff2222"/>
<polygon points="247.76,51.5 252.3,49.83 247.72,47.96 243.17,49.64" fill="#ff2323"/>
<polygon points="256.88,51.85 261.42,50.28 256.85,48.25 252.3,49.83" fill="#ff2424"/>
<polygon points="265.99,52.48 270.53,51.01 265.96,48.81 261.42,50.28" fill="#ff2424"/>
<polygon points="275.08,53.39 279.61,52.02 275.06,49.64 270.53,51.01" fill="#ff2424"/>
<polygon points="142.98,68.88 147.47,65.85 142.94,65.76 138.45,68.79" fill="#f3a51a"/>
<polygon points="152.01,66.08 156.52,63.17 151.97,62.93 147.47,65.85" fill="#f77f1a"/>
<polygon points="161.08,63.55 165.59,60.76 161.03,60.37 156.52,63.17" fill="#fa5e1a"/>
<polygon points="170.16,61.3 174.68,58.63 170.11,58.08 165.59,60.76" fill="#fd441a"/>
<polygon points="179.26,59.32 183.79,56.77 179.21,56.06 174.68,58.63" fill="#ff311a"/>
<polygon points="188.38,57.63 192.91,55.19 188.33,54.32 183.79,56.77" fill="#ff241c"/>
<polygon points="197.5,56.2 202.05,53.88 197.46,52.85 192.91,55.19" fill="#ff1e1e"/>
<polygon points="206.64,55.06 211.19,52.85 206.59,51.66 202.05,53.88" fill="#ff1f1f"/>
<polygon points="215.78,54.2 220.33,52.1 215.74,50.74 211.19,52.85" fill="#ff2121"/>
<polygon points="224.93,53.61 229.48,51.62 224.89,50.1 220.33,52.1" fill="#ff2222"/>
<polygon points="234.07,53.3 238.62,51.42 234.03,49.73 229.48,51.62" fill="#ff2323"/>
<polygon points="243.21,53.27 247.76,51.5 243.17,49.64 238.62,51.42" fill="#ff2424"/>
<polygon points="252.34,53.52 256.88,51.85 252.3,49.83 247.76,51.5" fill="#ff2525"/>
<polygon points="261.45,54.05 265.99,52.48 261.42,50.28 256.88,51.85" fill="#ff2525"/>
<polygon points="270.55,54.85 275.08,53.39 270.53,51.01 265.99,52.48" fill="#ff2626"/>
<polygon points="147.52,69.1 152.01,66.08 147.47,65.85 142.98,68.88" fill="#f7931a"/>
<polygon points="156.56,66.45 161.08,63.55 156.52,63.17 152.01,66.08" fill="#fb6f1a"/>
<polygon points="165.64,64.08 170.16,61.3 165.59,60.76 161.08,63.55" fill="#fe521a"/>
<polygon points="174.73,61.99 179.26,59.32 174.68,58.63 170.16,61.3" fill="#ff3c1b"/>
<polygon points="183.84,60.17 188.38,57.63 183.79,56.77 179.26,59.32" fill="#ff2c1d"/>
<polygon points="192.96,58.64 197.5,56.2 192.91,55.19 188.38,57.63" fill="#ff231e"/>
<polygon points="202.1,57.38 206.64,55.06 202.05,53.88 197.5,56.2" fill="#ff2020"/>
<polygon points="211.24,56.4 215.78,54.2 211.19,52.85 206.64,55.06" fill="#ff2222"/>
<polygon points="220.38,55.7 224.93,53.61 220.33,52.1 215.78,54.2" fill="#ff2323"/>
<polygon points="229.52,55.28 234.07,53.3 229.48,51.62 224.93,53.61" fill="#ff2424"/>
<polygon points="238.66,55.15 243.21,53.27 238.62,51.42 234.07,53.3" fill="#ff2525"/>
<polygon points="247.79,55.29 252.34,53.52 247.76,51.5 243.21,53.27" fill="#ff2626"/>
<polygon points="256.91,55.71 261.45,54.05 256.88,51.85 252.34,53.52" fill="#ff2626"/>
<polygon points="266.01,56.41 270.55,54.85 265.99,52.48 261.45,54.05" fill="#ff2727"/>
<polygon points="152.06,69.47 156.56,66.45 152.01,66.08 147.52,69.1" fill="#fb831a"/>
<polygon points="161.12,66.97 165.64,64.08 161.08,63.55 156.56,66.45" fill="#ff621a"/>
<polygon points="170.21,64.76 174.73,61.99 170.16,61.3 165.64,64.08" fill="#ff491b"/>
<polygon points="179.31,62.83 183.84,60.17 179.26,59.32 174.73,61.99" fill="#ff361d"/>
<polygon points="188.42,61.17 192.96,58.64 188.38,57.63 183.84,60.17" fill="#ff2a1f"/>
<polygon points="197.55,59.8 202.1,57.38 197.5,56.2 192.96,58.64" fill="#ff2321"/>
<polygon points="206.69,58.71 211.24,56.4 206.64,55.06 202.1,57.38" fill="#ff2222"/>
<polygon points="215.83,57.9 220.38,55.7 215.78,54.2 211.24,56.4" fill="#ff2424"/>
<polygon points="224.97,57.37 229.52,55.28 224.93,53.61 220.38,55.7" fill="#ff2525"/>
<polygon points="234.11,57.12 238.66,55.15 234.07,53.3 229.52,55.28" fill="#ff2626"/>
<polygon points="243.24,57.16 247.79,55.29 243.21,53.27 238.66,55.15" fill="#ff2727"/>
<polygon points="252.36,57.47 256.91,55.71 252.34,53.52 247.79,55.29" fill="#ff2828"/>
<polygon points="261.47,58.07 266.01,56.41 261.45,54.05 256.91,55.71" fill="#ff2828"/>
<polygon points="156.61,69.98 161.12,66.97 156.56,66.45 152.06,69.47" fill="#ff751a"/>
<polygon points="165.69,67.65 170.21,64.76 165.64,64.08 161.12,66.97" fill="#ff581c"/>
<polygon points="174.78,65.59 179.31,62.83 174.73,61.99 170.21,64.76" fill="#ff421e"/>
<polygon points="183.89,63.82 188.42,61.17 183.84,60.17 179.31,62.83" fill="#ff3320"/>
<polygon points="193.01,62.33 197.55,59.8 192.96,58.64 188.42,61.17" fill="#ff2922"/>
<polygon points="202.14,61.12 206.69,58.71 202.1,57.38 197.55,59.8" fill="#ff2423"/>
<polygon points="211.28,60.2 215.83,57.9 211.24,56.4 206.69,58.71" fill="#ff2525"/>
<polygon points="220.42,59.56 224.97,57.37 220.38,55.7 215.83,57.9" fill="#ff2626"/>
<polygon points="229.56,59.2 234.11,57.12 229.52,55.28 224.97,57.37" fill="#ff2727"/>
<polygon points="238.69,59.13 243.24,57.16 238.66,55.15 234.11,57.12" fill="#ff2828"/>
<polygon points="247.82,59.34 252.36,57.47 247.79,55.29 243.24,57.16" fill="#ff2929"/>
<polygon points="256.93,59.83 261.47,58.07 256.91,55.71 252.36,57.47" fill="#ff2929"/>
<polygon points="161.17,70.64 165.69,67.65 161.12,66.97 156.61,69.98" fill="#ff691d"/>
<polygon points="170.26,68.47 174.78,65.59 170.21,64.76 165.69,67.65" fill="#ff501f"/>
<polygon points="179.36,66.58 183.89,63.82 179.31,62.83 174.78,65.59" fill="#ff3e21"/>
<polygon points="188.47,64.97 193.01,62.33 188.42,61.17 183.89,63.82" fill="#ff3122"/>
<polygon points="197.6,63.65 202.14,61.12 197.55,59.8 193.01,62.33" fill="#ff2924"/>
<polygon points="206.73,62.61 211.28,60.2 206.69,58.71 202.14,61.12" fill="#ff2626"/>
<polygon points="215.87,61.85 220.42,59.56 215.83,57.9 211.28,60.2" fill="#ff2727"/>
<polygon points="225.01,61.38 229.56,59.2 224.97,57.37 220.42,59.56" fill="#ff2828"/>
<polygon points="234.14,61.2 238.69,59.13 234.11,57.12 229.56,59.2" fill="#ff2929"/>
<polygon points="243.27,61.3 247.82,59.34 243.24,57.16 238.69,59.13" fill="#ff2a2a"/>
<polygon points="252.39,61.68 256.93,59.83 252.36,57.47 247.82,59.34" fill="#ff2a2a"/>
<polygon points="165.74,71.46 170.26,68.47 165.69,67.65 161.17,70.64" fill="#ff601f"/>
<polygon points="174.83,69.45 179.36,66.58 174.78,65.59 170.26,68.47" fill="#ff4b21"/>
<polygon points="183.94,67.72 188.47,64.97 183.89,63.82 179.36,66.58" fill="#ff3b23"/>
<polygon points="193.06,66.28 197.6,63.65 193.01,62.33 188.47,64.97" fill="#ff3125"/>
<polygon points="202.19,65.12 206.73,62.61 202.14,61.12 197.6,63.65" fill="#ff2b26"/>
<polygon points="211.32,64.25 215.87,61.85 211.28,60.2 206.73,62.61" fill="#ff2828"/>
<polygon points="220.46,63.67 225.01,61.38 220.42,59.56 215.87,61.85" fill="#ff2929"/>
<polygon points="229.59,63.37 234.14,61.2 229.56,59.2 225.01,61.38" fill="#ff2a2a"/>
<polygon points="238.72,63.36 243.27,61.3 238.69,59.13 234.14,61.2" fill="#ff2b2b"/>
<polygon points="247.84,63.64 252.39,61.68 247.82,59.34 243.27,61.3" fill="#ff2c2c"/>
<polygon points="170.31,72.43 174.83,69.45 170.26,68.47 165.74,71.46" fill="#ff5a22"/>
<polygon points="179.41,70.59 183.94,67.72 179.36,66.58 174.83,69.45" fill="#ff4724"/>
<polygon points="188.53,69.03 193.06,66.28 188.47,64.97 183.94,67.72" fill="#ff3a25"/>
<polygon points="197.65,67.75 202.19,65.12 197.6,63.65 193.06,66.28" fill="#ff3227"/>
<polygon points="206.78,66.77 211.32,64.25 206.73,62.61 202.19,65.12" fill="#ff2d29"/>
<polygon points="215.91,66.07 220.46,63.67 215.87,61.85 211.32,64.25" fill="#ff2b2a"/>
<polygon points="225.04,65.66 229.59,63.37 225.01,61.38 220.46,63.67" fill="#ff2b2b"/>
<polygon points="234.17,65.54 238.72,63.36 234.14,61.2 229.59,63.37" fill="#ff2c2c"/>
<polygon points="243.29,65.7 247.84,63.64 243.27,61.3 238.72,63.36" fill="#ff2d2d"/>
<polygon points="174.89,73.57 179.41,70.59 174.83,69.45 170.31,72.43" fill="#ff5524"/>
<polygon points="183.99,71.88 188.53,69.03 183.94,67.72 179.41,70.59" fill="#ff4626"/>
<polygon points="193.11,70.49 197.65,67.75 193.06,66.28 188.53,69.03" fill="#ff3b28"/>
<polygon points="202.24,69.39 206.78,66.77 202.19,65.12 197.65,67.75" fill="#ff3429"/>
<polygon points="211.37,68.57 215.91,66.07 211.32,64.25 206.78,66.77" fill="#ff302b"/>
<polygon points="220.5,68.05 225.04,65.66 220.46,63.67 215.91,66.07" fill="#ff2e2c"/>
<polygon points="229.62,67.81 234.17,65.54 229.59,63.37 225.04,65.66" fill="#ff2f2d"/>
<polygon points="238.75,67.87 243.29,65.7 238.72,63.36 234.17,65.54" fill="#ff302e"/>
<polygon points="179.47,74.86 183.99,71.88 179.41,70.59 174.89,73.57" fill="#ff5327"/>
<polygon points="188.58,73.34 193.11,70.49 188.53,69.03 183.99,71.88" fill="#ff4529"/>
<polygon points="197.7,72.12 202.24,69.39 197.65,67.75 193.11,70.49" fill="#ff3c2a"/>
<polygon points="206.82,71.19 211.37,68.57 206.78,66.77 202.24,69.39" fill="#ff372b"/>
<polygon points="215.95,70.55 220.5,68.05 215.91,66.07 211.37,68.57" fill="#ff342d"/>
<polygon points="225.08,70.2 229.62,67.81 225.04,65.66 220.5,68.05" fill="#ff332e"/>
<polygon points="234.2,70.14 238.75,67.87 234.17,65.54 229.62,67.81" fill="#ff342f"/>
<polygon points="184.05,76.31 188.58,73.34 183.99,71.88 179.47,74.86" fill="#ff5229"/>
<polygon points="193.16,74.97 197.7,72.12 193.11,70.49 188.58,73.34" fill="#ff472b"/>
<polygon points="202.28,73.92 206.82,71.19 202.24,69.39 197.7,72.12" fill="#ff3f2c"/>
<polygon points="211.41,73.16 215.95,70.55 211.37,68.57 206.82,71.19" fill="#ff3b2e"/>
<polygon points="220.53,72.7 225.08,70.2 220.5,68.05 215.95,70.55" fill="#ff392f"/>
<polygon points="229.65,72.53 234.2,70.14 229.62,67.81 225.08,70.2" fill="#ff3930"/>
<polygon points="188.63,77.93 193.16,74.97 188.58,73.34 184.05,76.31" fill="#ff532b"/>
<polygon points="197.74,76.76 202.28,73.92 197.7,72.12 193.16,74.97" fill="#ff492d"/>
<polygon points="206.86,75.89 211.41,73.16 206.82,71.19 202.28,73.92" fill="#ff432e"/>
<polygon points="215.99,75.31 220.53,72.7 215.95,70.55 211.41,73.16" fill="#ff4030"/>
<polygon points="225.11,75.02 229.65,72.53 225.08,70.2 220.53,72.7" fill="#ff3f31"/>
<polygon points="193.21,79.72 197.74,76.76 193.16,74.97 188.63,77.93" fill="#ff552e"/>
<polygon points="202.32,78.72 206.86,75.89 202.28,73.92 197.74,76.76" fill="#ff4d2f"/>
<polygon points="211.44,78.03 215.99,75.31 211.41,73.16 206.86,75.89" fill="#ff4830"/>
<polygon points="220.56,77.62 225.11,75.02 220.53,72.7 215.99,75.31" fill="#ff4631"/>
<polygon points="197.79,81.68 202.32,78.72 197.74,76.76 193.21,79.72" fill="#ff5830"/>
<polygon points="206.9,80.86 211.44,78.03 206.86,75.89 202.32,78.72" fill="#ff5231"/>
<polygon points="216.02,80.34 220.56,77.62 215.99,75.31 211.44,78.03" fill="#ff4f32"/>
<polygon points="202.37,83.81 206.9,80.86 202.32,78.72 197.79,81.68" fill="#ff5d32"/>
<polygon points="211.48,83.17 216.02,80.34 211.44,78.03 206.9,80.86" fill="#ff5833"/>
<polygon points="206.94,86.12 211.48,83.17 206.9,80.86 202.37,83.81" fill="#ff6434"/>
</g>
<polygon points="468.3,172.6 554.8,135.8 554.8,11.1 462.4,35" fill="#fff" stroke="#3a3a3a" stroke-width="0.7"/>
<polygon points="554.8,135.8 640.8,172.9 647.1,35 554.8,11.1" fill="#fff" stroke="#3a3a3a" stroke-width="0.7"/>
<path d="M489.93 163.4L485.5 29.03M511.55 154.2L508.6 23.05M533.17 145L531.7 17.08M619.3 163.62L624.03 29.03M597.8 154.35L600.95 23.05M576.3 145.08L577.88 17.07M463.3 55.9L554.8 30.04L646.14 55.95M464.19 76.8L554.8 48.98L645.19 76.89M465.09 97.7L554.8 67.93L644.23 97.84M465.98 118.61L554.8 86.87L643.27 118.79M466.88 139.51L554.8 105.81L642.32 139.73" fill="none" stroke="#3a3a3a" stroke-width="0.7"/>
<polygon points="554.9,221 640.8,172.9 554.8,135.8 468.3,172.6" fill="#606060" stroke="#3a3a3a" stroke-width="0.5"/>
<path d="M483.8 167.2C482.93 167.83 480.08 169.53 478.6 171C477.12 172.47 475.52 175.17 474.9 176" fill="none" stroke="#f29a20" stroke-width="1.5" stroke-linecap="butt"/>
<path d="M564.8 140.2C563.08 140.5 557.8 141.27 554.5 142C551.2 142.73 548.38 143.47 545 144.6C541.62 145.73 537.78 147.23 534.2 148.8C530.62 150.37 526.8 152.17 523.5 154C520.2 155.83 516.9 157.88 514.4 159.8C511.9 161.72 509.98 163.38 508.5 165.5C507.02 167.62 505.83 170.58 505.5 172.5C505.17 174.42 505.67 175.65 506.5 177C507.33 178.35 508.83 179.6 510.5 180.6C512.17 181.6 514.2 182.33 516.5 183C518.8 183.67 521.38 184.22 524.3 184.6C527.22 184.98 530.63 185.23 534 185.3C537.37 185.37 541.03 185.32 544.5 185C547.97 184.68 551.38 184.13 554.8 183.4C558.22 182.67 561.48 181.53 565 180.6C568.52 179.67 572.65 178.7 575.9 177.8C579.15 176.9 581.4 176.1 584.5 175.2C587.6 174.3 591.2 173.37 594.5 172.4C597.8 171.43 601.47 170.3 604.3 169.4C607.13 168.5 609.15 167.83 611.5 167C613.85 166.17 617.25 164.83 618.4 164.4" fill="none" stroke="#e0302c" stroke-width="1.5" stroke-linecap="butt"/>
<path d="M511.4 197C513.25 197.03 518.7 197.3 522.5 197.2C526.3 197.1 530.45 196.77 534.2 196.4C537.95 196.03 541.57 195.53 545 195C548.43 194.47 551.47 193.9 554.8 193.2C558.13 192.5 561.48 191.62 565 190.8C568.52 189.98 572.65 189.08 575.9 188.3C579.15 187.52 581.4 186.93 584.5 186.1C587.6 185.27 591.2 184.28 594.5 183.3C597.8 182.32 600.97 181.35 604.3 180.2C607.63 179.05 611.22 177.7 614.5 176.4C617.78 175.1 621.32 173.58 624 172.4C626.68 171.22 629.5 169.82 630.6 169.3" fill="none" stroke="#f29a20" stroke-width="1.5" stroke-linecap="butt"/>
<path d="M527.8 205.9C529.17 205.85 533.13 205.88 536 205.6C538.87 205.32 541.87 204.75 545 204.2C548.13 203.65 551.47 203 554.8 202.3C558.13 201.6 561.63 200.78 565 200C568.37 199.22 571.75 198.43 575 197.6C578.25 196.77 581.25 195.97 584.5 195C587.75 194.03 591.2 192.92 594.5 191.8C597.8 190.68 600.97 189.53 604.3 188.3C607.63 187.07 611.22 185.72 614.5 184.4C617.78 183.08 621.25 181.58 624 180.4C626.75 179.22 628.8 178.25 631 177.3C633.2 176.35 636.17 175.13 637.2 174.7" fill="none" stroke="#f2cc1c" stroke-width="1.5" stroke-linecap="butt"/>
<path d="M538.5 211.6C539.75 211.47 543.28 211.23 546 210.8C548.72 210.37 551.63 209.77 554.8 209C557.97 208.23 561.63 207.15 565 206.2C568.37 205.25 571.75 204.3 575 203.3C578.25 202.3 581.83 201.05 584.5 200.2C587.17 199.35 588.92 198.75 591 198.2C593.08 197.65 596 197.12 597 196.9" fill="none" stroke="#b4dc22" stroke-width="1.5" stroke-linecap="butt"/>
<path d="M547 216.6C547.92 216.4 550.68 215.83 552.5 215.4C554.32 214.97 555.82 214.57 557.9 214C559.98 213.43 562.9 212.62 565 212C567.1 211.38 568.67 210.83 570.5 210.3C572.33 209.77 575.08 209.05 576 208.8" fill="none" stroke="#5ad82a" stroke-width="1.5" stroke-linecap="butt"/>
<g stroke="#1c0c04" stroke-opacity="0.72" stroke-width="0.45" stroke-linejoin="round">
<polygon points="554.79,28.74 559.38,27.91 554.8,28.53 550.22,29.31" fill="#ba391a"/>
<polygon points="550.21,29.65 554.79,28.74 550.22,29.31 545.64,30.18" fill="#bd361a"/>
<polygon points="559.38,28.39 563.96,27.51 559.38,27.91 554.79,28.74" fill="#c22c1a"/>
<polygon points="545.62,30.63 550.21,29.65 545.64,30.18 541.05,31.12" fill="#c0341a"/>
<polygon points="554.79,29.34 559.38,28.39 554.79,28.74 550.21,29.65" fill="#c62a1a"/>
<polygon points="563.97,28.26 568.55,27.34 563.96,27.51 559.38,28.39" fill="#cb231a"/>
<polygon points="541.04,31.7 545.62,30.63 541.05,31.12 536.47,32.13" fill="#c3321a"/>
<polygon points="550.2,30.38 554.79,29.34 550.21,29.65 545.62,30.63" fill="#c9281a"/>
<polygon points="559.38,29.26 563.97,28.26 559.38,28.39 554.79,29.34" fill="#ce201a"/>
<polygon points="568.56,28.36 573.15,27.39 568.55,27.34 563.97,28.26" fill="#d31c1a"/>
<polygon points="536.45,32.84 541.04,31.7 536.47,32.13 531.89,33.23" fill="#c7311a"/>
<polygon points="545.61,31.49 550.2,30.38 545.62,30.63 541.04,31.7" fill="#cc261a"/>
<polygon points="554.79,30.35 559.38,29.26 554.79,29.34 550.2,30.38" fill="#d11f1a"/>
<polygon points="563.97,29.42 568.56,28.36 563.97,28.26 559.38,29.26" fill="#d61a1a"/>
<polygon points="573.16,28.7 577.74,27.68 573.15,27.39 568.56,28.36" fill="#db1a1a"/>
<polygon points="531.86,34.07 536.45,32.84 531.89,33.23 527.3,34.41" fill="#ca301a"/>
<polygon points="541.03,32.68 545.61,31.49 541.04,31.7 536.45,32.84" fill="#cf251a"/>
<polygon points="550.2,31.51 554.79,30.35 550.2,30.38 545.61,31.49" fill="#d41e1a"/>
<polygon points="559.38,30.55 563.97,29.42 559.38,29.26 554.79,30.35" fill="#da1a1a"/>
<polygon points="568.57,29.8 573.16,28.7 568.56,28.36 563.97,29.42" fill="#df1a1a"/>
<polygon points="577.76,29.27 582.34,28.2 577.74,27.68 573.16,28.7" fill="#e31a1a"/>
<polygon points="527.28,35.37 531.86,34.07 527.3,34.41 522.72,35.66" fill="#cd301a"/>
<polygon points="536.44,33.95 541.03,32.68 536.45,32.84 531.86,34.07" fill="#d2251a"/>
<polygon points="545.61,32.75 550.2,31.51 545.61,31.49 541.03,32.68" fill="#d81d1a"/>
<polygon points="554.79,31.76 559.38,30.55 554.79,30.35 550.2,31.51" fill="#dd1a1a"/>
<polygon points="563.98,30.98 568.57,29.8 563.97,29.42 559.38,30.55" fill="#e21a1a"/>
<polygon points="573.17,30.42 577.76,29.27 573.16,28.7 568.57,29.8" fill="#e71a1a"/>
<polygon points="582.36,30.08 586.94,28.96 582.34,28.2 577.76,29.27" fill="#eb1a1a"/>
<polygon points="522.69,36.76 527.28,35.37 522.72,35.66 518.14,37.01" fill="#d0311a"/>
<polygon points="531.85,35.31 536.44,33.95 531.86,34.07 527.28,35.37" fill="#d6251a"/>
<polygon points="541.02,34.07 545.61,32.75 541.03,32.68 536.44,33.95" fill="#db1d1a"/>
<polygon points="550.2,33.05 554.79,31.76 550.2,31.51 545.61,32.75" fill="#e01a1a"/>
<polygon points="559.39,32.25 563.98,30.98 559.38,30.55 554.79,31.76" fill="#e51a1a"/>
<polygon points="568.58,31.66 573.17,30.42 568.57,29.8 563.98,30.98" fill="#ea1a1a"/>
<polygon points="577.77,31.29 582.36,30.08 577.76,29.27 573.17,30.42" fill="#ee1a1a"/>
<polygon points="586.95,31.14 591.54,29.96 586.94,28.96 582.36,30.08" fill="#f31a1a"/>
<polygon points="518.11,38.24 522.69,36.76 518.14,37.01 513.56,38.43" fill="#d3321a"/>
<polygon points="527.26,36.75 531.85,35.31 527.28,35.37 522.69,36.76" fill="#d9261a"/>
<polygon points="536.43,35.48 541.02,34.07 536.44,33.95 531.85,35.31" fill="#de1d1a"/>
<polygon points="545.61,34.43 550.2,33.05 545.61,32.75 541.02,34.07" fill="#e31a1a"/>
<polygon points="554.79,33.59 559.39,32.25 554.79,31.76 550.2,33.05" fill="#e81a1a"/>
<polygon points="563.98,32.98 568.58,31.66 563.98,30.98 559.39,32.25" fill="#ed1a1a"/>
<polygon points="573.18,32.58 577.77,31.29 573.17,30.42 568.58,31.66" fill="#f21a1a"/>
<polygon points="582.36,32.4 586.95,31.14 582.36,30.08 577.77,31.29" fill="#f61a1a"/>
<polygon points="591.55,32.44 596.13,31.2 591.54,29.96 586.95,31.14" fill="#fa1a1a"/>
<polygon points="513.53,39.8 518.11,38.24 513.56,38.43 508.98,39.94" fill="#d6351a"/>
<polygon points="522.68,38.28 527.26,36.75 522.69,36.76 518.11,38.24" fill="#dc271a"/>
<polygon points="531.84,36.97 536.43,35.48 531.85,35.31 527.26,36.75" fill="#e11e1a"/>
<polygon points="541.02,35.89 545.61,34.43 541.02,34.07 536.43,35.48" fill="#e61a1a"/>
<polygon points="550.2,35.02 554.79,33.59 550.2,33.05 545.61,34.43" fill="#eb1a1a"/>
<polygon points="559.39,34.38 563.98,32.98 559.39,32.25 554.79,33.59" fill="#f01a1a"/>
<polygon points="568.58,33.95 573.18,32.58 568.58,31.66 563.98,32.98" fill="#f51a1a"/>
<polygon points="577.77,33.75 582.36,32.4 577.77,31.29 573.18,32.58" fill="#f91a1a"/>
<polygon points="586.96,33.76 591.55,32.44 586.95,31.14 582.36,32.4" fill="#fd1a1a"/>
<polygon points="596.13,34 600.72,32.7 596.13,31.2 591.55,32.44" fill="#ff1a1a"/>
<polygon points="508.96,41.45 513.53,39.8 508.98,39.94 504.41,41.53" fill="#d9381a"/>
<polygon points="518.1,39.89 522.68,38.28 518.11,38.24 513.53,39.8" fill="#df291a"/>
<polygon points="527.26,38.55 531.84,36.97 527.26,36.75 522.68,38.28" fill="#e41f1a"/>
<polygon points="536.43,37.44 541.02,35.89 536.43,35.48 531.84,36.97" fill="#e91a1a"/>
<polygon points="545.61,36.54 550.2,35.02 545.61,34.43 541.02,35.89" fill="#ee1a1a"/>
<polygon points="554.8,35.87 559.39,34.38 554.79,33.59 550.2,35.02" fill="#f31a1a"/>
<polygon points="563.99,35.41 568.58,33.95 563.98,32.98 559.39,34.38" fill="#f81a1a"/>
<polygon points="573.18,35.18 577.77,33.75 573.18,32.58 568.58,33.95" fill="#fc1a1a"/>
<polygon points="582.37,35.17 586.96,33.76 582.36,32.4 577.77,33.75" fill="#ff1a1a"/>
<polygon points="591.55,35.38 596.13,34 591.55,32.44 586.96,33.76" fill="#ff1b1b"/>
<polygon points="600.71,35.81 605.3,34.45 600.72,32.7 596.13,34" fill="#ff1c1c"/>
<polygon points="504.38,43.18 508.96,41.45 504.41,41.53 499.84,43.22" fill="#dc3b1a"/>
<polygon points="513.52,41.59 518.1,39.89 513.53,39.8 508.96,41.45" fill="#e22c1a"/>
<polygon points="522.67,40.22 527.26,38.55 522.68,38.28 518.1,39.89" fill="#e7211a"/>
<polygon points="531.84,39.07 536.43,37.44 531.84,36.97 527.26,38.55" fill="#ec1a1a"/>
<polygon points="541.02,38.14 545.61,36.54 541.02,35.89 536.43,37.44" fill="#f11a1a"/>
<polygon points="550.21,37.44 554.8,35.87 550.2,35.02 545.61,36.54" fill="#f61a1a"/>
<polygon points="559.4,36.95 563.99,35.41 559.39,34.38 554.8,35.87" fill="#fb1a1a"/>
<polygon points="568.59,36.69 573.18,35.18 568.58,33.95 563.99,35.41" fill="#ff1a1a"/>
<polygon points="577.78,36.66 582.37,35.17 577.77,33.75 573.18,35.18" fill="#ff1b1b"/>
<polygon points="586.96,36.84 591.55,35.38 586.96,33.76 582.37,35.17" fill="#ff1c1c"/>
<polygon points="596.13,37.25 600.71,35.81 596.13,34 591.55,35.38" fill="#ff1c1c"/>
<polygon points="605.29,37.88 609.87,36.46 605.3,34.45 600.71,35.81" fill="#ff1d1d"/>
<polygon points="499.81,45.01 504.38,43.18 499.84,43.22 495.27,44.99" fill="#df401a"/>
<polygon points="508.94,43.38 513.52,41.59 508.96,41.45 504.38,43.18" fill="#e5301a"/>
<polygon points="518.09,41.98 522.67,40.22 518.1,39.89 513.52,41.59" fill="#ea231a"/>
<polygon points="527.25,40.8 531.84,39.07 527.26,38.55 522.67,40.22" fill="#ef1b1a"/>
<polygon points="536.43,39.84 541.02,38.14 536.43,37.44 531.84,39.07" fill="#f41a1a"/>
<polygon points="545.62,39.1 550.21,37.44 545.61,36.54 541.02,38.14" fill="#f91a1a"/>
<polygon points="554.81,38.59 559.4,36.95 554.8,35.87 550.21,37.44" fill="#fe1a1a"/>
<polygon points="564,38.3 568.59,36.69 563.99,35.41 559.4,36.95" fill="#ff1a1a"/>
<polygon points="573.19,38.23 577.78,36.66 573.18,35.18 568.59,36.69" fill="#ff1b1b"/>
<polygon points="582.37,38.39 586.96,36.84 582.37,35.17 577.78,36.66" fill="#ff1c1c"/>
<polygon points="591.54,38.78 596.13,37.25 591.55,35.38 586.96,36.84" fill="#ff1d1d"/>
<polygon points="600.7,39.38 605.29,37.88 600.71,35.81 596.13,37.25" fill="#ff1e1e"/>
<polygon points="609.85,40.21 614.42,38.73 609.87,36.46 605.29,37.88" fill="#ff1f1f"/>
<polygon points="495.25,46.93 499.81,45.01 495.27,44.99 490.71,46.85" fill="#e2461a"/>
<polygon points="504.37,45.26 508.94,43.38 504.38,43.18 499.81,45.01" fill="#e8341a"/>
<polygon points="513.51,43.83 518.09,41.98 513.52,41.59 508.94,43.38" fill="#ed271a"/>
<polygon points="522.67,42.61 527.25,40.8 522.67,40.22 518.09,41.98" fill="#f21d1a"/>
<polygon points="531.85,41.62 536.43,39.84 531.84,39.07 527.25,40.8" fill="#f71a1a"/>
<polygon points="541.03,40.85 545.62,39.1 541.02,38.14 536.43,39.84" fill="#fc1a1a"/>
<polygon points="550.21,40.31 554.81,38.59 550.21,37.44 545.62,39.1" fill="#ff1a1a"/>
<polygon points="559.4,39.99 564,38.3 559.4,36.95 554.81,38.59" fill="#ff1b1b"/>
<polygon points="568.59,39.9 573.19,38.23 568.59,36.69 564,38.3" fill="#ff1c1c"/>
<polygon points="577.78,40.03 582.37,38.39 577.78,36.66 573.19,38.23" fill="#ff1d1d"/>
<polygon points="586.95,40.39 591.54,38.78 586.96,36.84 582.37,38.39" fill="#ff1e1e"/>
<polygon points="596.12,40.97 600.7,39.38 596.13,37.25 591.54,38.78" fill="#ff1f1f"/>
<polygon points="605.26,41.78 609.85,40.21 605.29,37.88 600.7,39.38" fill="#ff1f1f"/>
<polygon points="614.39,42.81 618.97,41.27 614.42,38.73 609.85,40.21" fill="#ff2420"/>
<polygon points="490.69,48.94 495.25,46.93 490.71,46.85 486.15,48.81" fill="#e54d1a"/>
<polygon points="499.81,47.24 504.37,45.26 499.81,45.01 495.25,46.93" fill="#eb3a1a"/>
<polygon points="508.94,45.76 513.51,43.83 508.94,43.38 504.37,45.26" fill="#f02b1a"/>
<polygon points="518.09,44.51 522.67,42.61 518.09,41.98 513.51,43.83" fill="#f5201a"/>
<polygon points="527.26,43.49 531.85,41.62 527.25,40.8 522.67,42.61" fill="#fa1a1a"/>
<polygon points="536.44,42.69 541.03,40.85 536.43,39.84 531.85,41.62" fill="#ff1a1a"/>
<polygon points="545.63,42.11 550.21,40.31 545.62,39.1 541.03,40.85" fill="#ff1b1b"/>
<polygon points="554.81,41.77 559.4,39.99 554.81,38.59 550.21,40.31" fill="#ff1c1c"/>
<polygon points="564,41.65 568.59,39.9 564,38.3 559.4,39.99" fill="#ff1d1d"/>
<polygon points="573.19,41.75 577.78,40.03 573.19,38.23 568.59,39.9" fill="#ff1e1e"/>
<polygon points="582.36,42.09 586.95,40.39 582.37,38.39 577.78,40.03" fill="#ff1f1f"/>
<polygon points="591.53,42.65 596.12,40.97 591.54,38.78 586.95,40.39" fill="#ff1f1f"/>
<polygon points="600.68,43.44 605.26,41.78 600.7,39.38 596.12,40.97" fill="#ff2020"/>
<polygon points="609.81,44.45 614.39,42.81 609.85,40.21 605.26,41.78" fill="#ff2521"/>
<polygon points="618.92,45.69 623.5,44.07 618.97,41.27 614.39,42.81" fill="#ff2f21"/>
<polygon points="486.14,51.04 490.69,48.94 486.15,48.81 481.6,50.85" fill="#e8561a"/>
<polygon points="495.24,49.3 499.81,47.24 495.25,46.93 490.69,48.94" fill="#ee411a"/>
<polygon points="504.37,47.8 508.94,45.76 504.37,45.26 499.81,47.24" fill="#f3311a"/>
<polygon points="513.52,46.51 518.09,44.51 513.51,43.83 508.94,45.76" fill="#f8251a"/>
<polygon points="522.68,45.45 527.26,43.49 522.67,42.61 518.09,44.51" fill="#fd1c1a"/>
<polygon points="531.86,44.62 536.44,42.69 531.85,41.62 527.26,43.49" fill="#ff1a1a"/>
<polygon points="541.04,44.02 545.63,42.11 541.03,40.85 536.44,42.69" fill="#ff1b1b"/>
<polygon points="550.23,43.64 554.81,41.77 550.21,40.31 545.63,42.11" fill="#ff1c1c"/>
<polygon points="559.41,43.49 564,41.65 559.4,39.99 554.81,41.77" fill="#ff1d1d"/>
<polygon points="568.6,43.57 573.19,41.75 568.59,39.9 564,41.65" fill="#ff1e1e"/>
<polygon points="577.78,43.88 582.36,42.09 577.78,40.03 573.19,41.75" fill="#ff1f1f"/>
<polygon points="586.94,44.41 591.53,42.65 586.95,40.39 582.36,42.09" fill="#ff2020"/>
<polygon points="596.1,45.18 600.68,43.44 596.12,40.97 591.53,42.65" fill="#ff2121"/>
<polygon points="605.23,46.17 609.81,44.45 605.26,41.78 600.68,43.44" fill="#ff2621"/>
<polygon points="614.35,47.39 618.92,45.69 614.39,42.81 609.81,44.45" fill="#ff3022"/>
<polygon points="623.44,48.83 628.01,47.15 623.5,44.07 618.92,45.69" fill="#ff3e23"/>
<polygon points="481.59,53.24 486.14,51.04 481.6,50.85 477.06,52.99" fill="#eb601a"/>
<polygon points="490.69,51.47 495.24,49.3 490.69,48.94 486.14,51.04" fill="#f14a1a"/>
<polygon points="499.81,49.92 504.37,47.8 499.81,47.24 495.24,49.3" fill="#f6381a"/>
<polygon points="508.95,48.6 513.52,46.51 508.94,45.76 504.37,47.8" fill="#fb2a1a"/>
<polygon points="518.11,47.51 522.68,45.45 518.09,44.51 513.52,46.51" fill="#ff201a"/>
<polygon points="527.28,46.64 531.86,44.62 527.26,43.49 522.68,45.45" fill="#ff1c1b"/>
<polygon points="536.45,46.01 541.04,44.02 536.44,42.69 531.86,44.62" fill="#ff1c1c"/>
<polygon points="545.64,45.6 550.23,43.64 545.63,42.11 541.04,44.02" fill="#ff1d1d"/>
<polygon points="554.82,45.42 559.41,43.49 554.81,41.77 550.23,43.64" fill="#ff1e1e"/>
<polygon points="564.01,45.48 568.6,43.57 564,41.65 559.41,43.49" fill="#ff1f1f"/>
<polygon points="573.19,45.76 577.78,43.88 573.19,41.75 568.6,43.57" fill="#ff2020"/>
<polygon points="582.36,46.27 586.94,44.41 582.36,42.09 577.78,43.88" fill="#ff2121"/>
<polygon points="591.51,47.01 596.1,45.18 591.53,42.65 586.94,44.41" fill="#ff2221"/>
<polygon points="600.65,47.98 605.23,46.17 600.68,43.44 596.1,45.18" fill="#ff2822"/>
<polygon points="609.77,49.18 614.35,47.39 609.81,44.45 605.23,46.17" fill="#ff3223"/>
<polygon points="618.87,50.61 623.44,48.83 618.92,45.69 614.35,47.39" fill="#ff4023"/>
<polygon points="627.94,52.26 632.5,50.5 628.01,47.15 623.44,48.83" fill="#ff5324"/>
<polygon points="477.05,55.53 481.59,53.24 477.06,52.99 472.52,55.23" fill="#ee6b1a"/>
<polygon points="486.14,53.72 490.69,51.47 486.14,51.04 481.59,53.24" fill="#f3541a"/>
<polygon points="495.25,52.14 499.81,49.92 495.24,49.3 490.69,51.47" fill="#f9401a"/>
<polygon points="504.39,50.79 508.95,48.6 504.37,47.8 499.81,49.92" fill="#fe311a"/>
<polygon points="513.54,49.66 518.11,47.51 513.52,46.51 508.95,48.6" fill="#ff261a"/>
<polygon points="522.7,48.76 527.28,46.64 522.68,45.45 518.11,47.51" fill="#ff1f1c"/>
<polygon points="531.87,48.1 536.45,46.01 531.86,44.62 527.28,46.64" fill="#ff1d1d"/>
<polygon points="541.06,47.66 545.64,45.6 541.04,44.02 536.45,46.01" fill="#ff1e1e"/>
<polygon points="550.24,47.45 554.82,45.42 550.23,43.64 545.64,45.6" fill="#ff1f1f"/>
<polygon points="559.42,47.48 564.01,45.48 559.41,43.49 554.82,45.42" fill="#ff2020"/>
<polygon points="568.6,47.73 573.19,45.76 568.6,43.57 564.01,45.48" fill="#ff2121"/>
<polygon points="577.77,48.22 582.36,46.27 577.78,43.88 573.19,45.76" fill="#ff2121"/>
<polygon points="586.93,48.94 591.51,47.01 586.94,44.41 582.36,46.27" fill="#ff2422"/>
<polygon points="596.07,49.88 600.65,47.98 596.1,45.18 591.51,47.01" fill="#ff2a23"/>
<polygon points="605.2,51.06 609.77,49.18 605.23,46.17 600.65,47.98" fill="#ff3423"/>
<polygon points="614.3,52.47 618.87,50.61 614.35,47.39 609.77,49.18" fill="#ff4224"/>
<polygon points="623.37,54.1 627.94,52.26 623.44,48.83 618.87,50.61" fill="#ff5424"/>
<polygon points="632.42,55.96 636.98,54.13 632.5,50.5 627.94,52.26" fill="#ff6c25"/>
<polygon points="472.52,57.92 477.05,55.53 472.52,55.23 467.99,57.56" fill="#f1791a"/>
<polygon points="481.6,56.08 486.14,53.72 481.59,53.24 477.05,55.53" fill="#f65f1a"/>
<polygon points="490.7,54.46 495.25,52.14 490.69,51.47 486.14,53.72" fill="#fb4a1a"/>
<polygon points="499.83,53.07 504.39,50.79 499.81,49.92 495.25,52.14" fill="#ff391a"/>
<polygon points="508.97,51.91 513.54,49.66 508.95,48.6 504.39,50.79" fill="#ff2d1b"/>
<polygon points="518.13,50.98 522.7,48.76 518.11,47.51 513.54,49.66" fill="#ff251c"/>
<polygon points="527.3,50.28 531.87,48.1 527.28,46.64 522.7,48.76" fill="#ff201d"/>
<polygon points="536.47,49.81 541.06,47.66 536.45,46.01 531.87,48.1" fill="#ff1f1e"/>
<polygon points="545.66,49.57 550.24,47.45 545.64,45.6 541.06,47.66" fill="#ff1f1f"/>
<polygon points="554.84,49.57 559.42,47.48 554.82,45.42 550.24,47.45" fill="#ff2020"/>
<polygon points="564.01,49.8 568.6,47.73 564.01,45.48 559.42,47.48" fill="#ff2121"/>
<polygon points="573.18,50.26 577.77,48.22 573.19,45.76 568.6,47.73" fill="#ff2222"/>
<polygon points="582.34,50.95 586.93,48.94 582.36,46.27 577.77,48.22" fill="#ff2623"/>
<polygon points="591.49,51.88 596.07,49.88 591.51,47.01 586.93,48.94" fill="#ff2d23"/>
<polygon points="600.62,53.03 605.2,51.06 600.65,47.98 596.07,49.88" fill="#ff3724"/>
<polygon points="609.72,54.42 614.3,52.47 609.77,49.18 605.2,51.06" fill="#ff4524"/>
<polygon points="618.8,56.04 623.37,54.1 618.87,50.61 614.3,52.47" fill="#ff5725"/>
<polygon points="627.85,57.88 632.42,55.96 627.94,52.26 623.37,54.1" fill="#ff6e25"/>
<polygon points="636.87,59.96 641.43,58.05 636.98,54.13 632.42,55.96" fill="#ff8b26"/>
<polygon points="468,60.41 472.52,57.92 467.99,57.56 463.47,59.99" fill="#f3881a"/>
<polygon points="477.06,58.53 481.6,56.08 477.05,55.53 472.52,57.92" fill="#f96d1a"/>
<polygon points="486.16,56.87 490.7,54.46 486.14,53.72 481.6,56.08" fill="#fe561a"/>
<polygon points="495.28,55.45 499.83,53.07 495.25,52.14 490.7,54.46" fill="#ff431b"/>
<polygon points="504.41,54.25 508.97,51.91 504.39,50.79 499.83,53.07" fill="#ff351c"/>
<polygon points="513.56,53.29 518.13,50.98 513.54,49.66 508.97,51.91" fill="#ff2c1d"/>
<polygon points="522.73,52.56 527.3,50.28 522.7,48.76 518.13,50.98" fill="#ff261e"/>
<polygon points="531.9,52.06 536.47,49.81 531.87,48.1 527.3,50.28" fill="#ff221f"/>
<polygon points="541.08,51.79 545.66,49.57 541.06,47.66 536.47,49.81" fill="#ff2120"/>
<polygon points="550.25,51.76 554.84,49.57 550.24,47.45 545.66,49.57" fill="#ff2221"/>
<polygon points="559.43,51.96 564.01,49.8 559.42,47.48 554.84,49.57" fill="#ff2322"/>
<polygon points="568.6,52.39 573.18,50.26 568.6,47.73 564.01,49.8" fill="#ff2523"/>
<polygon points="577.76,53.06 582.34,50.95 577.77,48.22 573.18,50.26" fill="#ff2a23"/>
<polygon points="586.91,53.97 591.49,51.88 586.93,48.94 582.34,50.95" fill="#ff3124"/>
<polygon points="596.04,55.1 600.62,53.03 596.07,49.88 591.49,51.88" fill="#ff3b25"/>
<polygon points="605.15,56.47 609.72,54.42 605.2,51.06 600.62,53.03" fill="#ff4925"/>
<polygon points="614.23,58.07 618.8,56.04 614.3,52.47 609.72,54.42" fill="#ff5b25"/>
<polygon points="623.29,59.9 627.85,57.88 623.37,54.1 618.8,56.04" fill="#ff7226"/>
<polygon points="632.32,61.95 636.87,59.96 632.42,55.96 627.85,57.88" fill="#ff8e26"/>
<polygon points="641.31,64.24 645.85,62.25 641.43,58.05 636.87,59.96" fill="#ffb026"/>
<polygon points="472.54,61.08 477.06,58.53 472.52,57.92 468,60.41" fill="#fc7c1a"/>
<polygon points="481.62,59.39 486.16,56.87 481.6,56.08 477.06,58.53" fill="#ff631a"/>
<polygon points="490.73,57.93 495.28,55.45 490.7,54.46 486.16,56.87" fill="#ff4f1b"/>
<polygon points="499.86,56.7 504.41,54.25 499.83,53.07 495.28,55.45" fill="#ff3f1c"/>
<polygon points="509,55.7 513.56,53.29 508.97,51.91 504.41,54.25" fill="#ff341e"/>
<polygon points="518.16,54.93 522.73,52.56 518.13,50.98 513.56,53.29" fill="#ff2d1f"/>
<polygon points="527.33,54.4 531.9,52.06 527.3,50.28 522.73,52.56" fill="#ff2820"/>
<polygon points="536.5,54.11 541.08,51.79 536.47,49.81 531.9,52.06" fill="#ff2621"/>
<polygon points="545.68,54.04 550.25,51.76 545.66,49.57 541.08,51.79" fill="#ff2622"/>
<polygon points="554.85,54.22 559.43,51.96 554.84,49.57 550.25,51.76" fill="#ff2722"/>
<polygon points="564.02,54.63 568.6,52.39 564.01,49.8 559.43,51.96" fill="#ff2a23"/>
<polygon points="573.18,55.27 577.76,53.06 573.18,50.26 568.6,52.39" fill="#ff2e24"/>
<polygon points="582.33,56.15 586.91,53.97 582.34,50.95 577.76,53.06" fill="#ff3525"/>
<polygon points="591.46,57.26 596.04,55.1 591.49,51.88 586.91,53.97" fill="#ff4025"/>
<polygon points="600.57,58.61 605.15,56.47 600.62,53.03 596.04,55.1" fill="#ff4e26"/>
<polygon points="609.66,60.19 614.23,58.07 609.72,54.42 605.15,56.47" fill="#ff5f26"/>
<polygon points="618.72,62 623.29,59.9 618.8,56.04 614.23,58.07" fill="#ff7626"/>
<polygon points="627.76,64.04 632.32,61.95 627.85,57.88 623.29,59.9" fill="#ff9227"/>
<polygon points="636.75,66.32 641.31,64.24 636.87,59.96 632.32,61.95" fill="#ffb327"/>
<polygon points="477.09,62 481.62,59.39 477.06,58.53 472.54,61.08" fill="#ff721b"/>
<polygon points="486.19,60.51 490.73,57.93 486.16,56.87 481.62,59.39" fill="#ff5c1c"/>
<polygon points="495.31,59.24 499.86,56.7 495.28,55.45 490.73,57.93" fill="#ff4b1d"/>
<polygon points="504.45,58.21 509,55.7 504.41,54.25 499.86,56.7" fill="#ff3e1e"/>
<polygon points="513.6,57.41 518.16,54.93 513.56,53.29 509,55.7" fill="#ff351f"/>
<polygon points="522.76,56.85 527.33,54.4 522.73,52.56 518.16,54.93" fill="#ff3020"/>
<polygon points="531.93,56.52 536.5,54.11 531.9,52.06 527.33,54.4" fill="#ff2c21"/>
<polygon points="541.1,56.43 545.68,54.04 541.08,51.79 536.5,54.11" fill="#ff2b22"/>
<polygon points="550.27,56.57 554.85,54.22 550.25,51.76 545.68,54.04" fill="#ff2c23"/>
<polygon points="559.44,56.95 564.02,54.63 559.43,51.96 554.85,54.22" fill="#ff2f24"/>
<polygon points="568.6,57.57 573.18,55.27 568.6,52.39 564.02,54.63" fill="#ff3425"/>
<polygon points="577.75,58.43 582.33,56.15 577.76,53.06 573.18,55.27" fill="#ff3b25"/>
<polygon points="586.88,59.52 591.46,57.26 586.91,53.97 582.33,56.15" fill="#ff4526"/>
<polygon points="596,60.84 600.57,58.61 596.04,55.1 591.46,57.26" fill="#ff5326"/>
<polygon points="605.09,62.4 609.66,60.19 605.15,56.47 600.57,58.61" fill="#ff6527"/>
<polygon points="614.16,64.2 618.72,62 614.23,58.07 609.66,60.19" fill="#ff7b27"/>
<polygon points="623.2,66.23 627.76,64.04 623.29,59.9 618.72,62" fill="#ff9727"/>
<polygon points="632.2,68.48 636.75,66.32 632.32,61.95 627.76,64.04" fill="#ffb827"/>
<polygon points="481.66,63.19 486.19,60.51 481.62,59.39 477.09,62" fill="#ff6b1d"/>
<polygon points="490.77,61.89 495.31,59.24 490.73,57.93 486.19,60.51" fill="#ff581e"/>
<polygon points="499.9,60.82 504.45,58.21 499.86,56.7 495.31,59.24" fill="#ff4a1f"/>
<polygon points="509.04,59.99 513.6,57.41 509,55.7 504.45,58.21" fill="#ff3f20"/>
<polygon points="518.2,59.39 522.76,56.85 518.16,54.93 513.6,57.41" fill="#ff3921"/>
<polygon points="527.36,59.03 531.93,56.52 527.33,54.4 522.76,56.85" fill="#ff3422"/>
<polygon points="536.53,58.91 541.1,56.43 536.5,54.11 531.93,56.52" fill="#ff3323"/>
<polygon points="545.7,59.03 550.27,56.57 545.68,54.04 541.1,56.43" fill="#ff3324"/>
<polygon points="554.86,59.38 559.44,56.95 554.85,54.22 550.27,56.57" fill="#ff3624"/>
<polygon points="564.02,59.97 568.6,57.57 564.02,54.63 559.44,56.95" fill="#ff3b25"/>
<polygon points="573.17,60.8 577.75,58.43 573.18,55.27 568.6,57.57" fill="#ff4226"/>
<polygon points="582.31,61.87 586.88,59.52 582.33,56.15 577.75,58.43" fill="#ff4c26"/>
<polygon points="591.42,63.18 596,60.84 591.46,57.26 586.88,59.52" fill="#ff5a27"/>
<polygon points="600.52,64.72 605.09,62.4 600.57,58.61 596,60.84" fill="#ff6c27"/>
<polygon points="609.59,66.49 614.16,64.2 609.66,60.19 605.09,62.4" fill="#ff8227"/>
<polygon points="618.63,68.5 623.2,66.23 618.72,62 614.16,64.2" fill="#ff9d28"/>
<polygon points="627.64,70.75 632.2,68.48 627.76,64.04 623.2,66.23" fill="#ffbe28"/>
<polygon points="486.24,64.63 490.77,61.89 486.19,60.51 481.66,63.19" fill="#ff671e"/>
<polygon points="495.36,63.53 499.9,60.82 495.31,59.24 490.77,61.89" fill="#ff5720"/>
<polygon points="504.5,62.67 509.04,59.99 504.45,58.21 499.9,60.82" fill="#ff4b21"/>
<polygon points="513.65,62.04 518.2,59.39 513.6,57.41 509.04,59.99" fill="#ff4322"/>
<polygon points="522.8,61.65 527.36,59.03 522.76,56.85 518.2,59.39" fill="#ff3e23"/>
<polygon points="531.97,61.49 536.53,58.91 531.93,56.52 527.36,59.03" fill="#ff3c23"/>
<polygon points="541.13,61.58 545.7,59.03 541.1,56.43 536.53,58.91" fill="#ff3c24"/>
<polygon points="550.29,61.91 554.86,59.38 550.27,56.57 545.7,59.03" fill="#ff3e25"/>
<polygon points="559.45,62.47 564.02,59.97 559.44,56.95 554.86,59.38" fill="#ff4326"/>
<polygon points="568.6,63.28 573.17,60.8 568.6,57.57 564.02,59.97" fill="#ff4a26"/>
<polygon points="577.73,64.32 582.31,61.87 577.75,58.43 573.17,60.8" fill="#ff5427"/>
<polygon points="586.85,65.61 591.42,63.18 586.88,59.52 582.31,61.87" fill="#ff6227"/>
<polygon points="595.95,67.13 600.52,64.72 596,60.84 591.42,63.18" fill="#ff7428"/>
<polygon points="605.02,68.89 609.59,66.49 605.09,62.4 600.52,64.72" fill="#ff8a28"/>
<polygon points="614.07,70.88 618.63,68.5 614.16,64.2 609.59,66.49" fill="#ffa528"/>
<polygon points="623.09,73.11 627.64,70.75 623.2,66.23 618.63,68.5" fill="#ffc528"/>
<polygon points="490.83,66.35 495.36,63.53 490.77,61.89 486.24,64.63" fill="#ff6620"/>
<polygon points="499.96,65.45 504.5,62.67 499.9,60.82 495.36,63.53" fill="#ff5921"/>
<polygon points="509.1,64.79 513.65,62.04 509.04,59.99 504.5,62.67" fill="#ff4f22"/>
<polygon points="518.25,64.36 522.8,61.65 518.2,59.39 513.65,62.04" fill="#ff4923"/>
<polygon points="527.41,64.18 531.97,61.49 527.36,59.03 522.8,61.65" fill="#ff4624"/>
<polygon points="536.57,64.24 541.13,61.58 536.53,58.91 531.97,61.49" fill="#ff4525"/>
<polygon points="545.73,64.54 550.29,61.91 545.7,59.03 541.13,61.58" fill="#ff4726"/>
<polygon points="554.88,65.08 559.45,62.47 554.86,59.38 550.29,61.91" fill="#ff4c26"/>
<polygon points="564.03,65.86 568.6,63.28 564.02,59.97 559.45,62.47" fill="#ff5327"/>
<polygon points="573.16,66.88 577.73,64.32 573.17,60.8 568.6,63.28" fill="#ff5d27"/>
<polygon points="582.28,68.14 586.85,65.61 582.31,61.87 577.73,64.32" fill="#ff6b28"/>
<polygon points="591.38,69.64 595.95,67.13 591.42,63.18 586.85,65.61" fill="#ff7d28"/>
<polygon points="600.46,71.38 605.02,68.89 600.52,64.72 595.95,67.13" fill="#ff9328"/>
<polygon points="609.51,73.35 614.07,70.88 609.59,66.49 605.02,68.89" fill="#ffad29"/>
<polygon points="618.53,75.57 623.09,73.11 618.63,68.5 614.07,70.88" fill="#ffcd29"/>
<polygon points="495.43,68.33 499.96,65.45 495.36,63.53 490.83,66.35" fill="#ff6822"/>
<polygon points="504.56,67.64 509.1,64.79 504.5,62.67 499.96,65.45" fill="#ff5e23"/>
<polygon points="513.7,67.18 518.25,64.36 513.65,62.04 509.1,64.79" fill="#ff5624"/>
<polygon points="522.85,66.97 527.41,64.18 522.8,61.65 518.25,64.36" fill="#ff5225"/>
<polygon points="532.01,67 536.57,64.24 531.97,61.49 527.41,64.18" fill="#ff5125"/>
<polygon points="541.16,67.27 545.73,64.54 541.13,61.58 536.57,64.24" fill="#ff5226"/>
<polygon points="550.32,67.78 554.88,65.08 550.29,61.91 545.73,64.54" fill="#ff5727"/>
<polygon points="559.46,68.53 564.03,65.86 559.45,62.47 554.88,65.08" fill="#ff5e27"/>
<polygon points="568.59,69.53 573.16,66.88 568.6,63.28 564.03,65.86" fill="#ff6828"/>
<polygon points="577.71,70.77 582.28,68.14 577.73,64.32 573.16,66.88" fill="#ff7528"/>
<polygon points="586.82,72.25 591.38,69.64 586.85,65.61 582.28,68.14" fill="#ff8729"/>
<polygon points="595.9,73.97 600.46,71.38 595.95,67.13 591.38,69.64" fill="#ff9d29"/>
<polygon points="604.95,75.93 609.51,73.35 605.02,68.89 600.46,71.38" fill="#ffb729"/>
<polygon points="613.97,78.12 618.53,75.57 614.07,70.88 609.51,73.35" fill="#ffd729"/>
<polygon points="500.03,70.6 504.56,67.64 499.96,65.45 495.43,68.33" fill="#ff6d23"/>
<polygon points="509.16,70.11 513.7,67.18 509.1,64.79 504.56,67.64" fill="#ff6524"/>
<polygon points="518.31,69.87 522.85,66.97 518.25,64.36 513.7,67.18" fill="#ff6025"/>
<polygon points="527.46,69.86 532.01,67 527.41,64.18 522.85,66.97" fill="#ff5e26"/>
<polygon points="536.61,70.1 541.16,67.27 536.57,64.24 532.01,67" fill="#ff5f27"/>
<polygon points="545.76,70.59 550.32,67.78 545.73,64.54 541.16,67.27" fill="#ff6327"/>
<polygon points="554.9,71.32 559.46,68.53 554.88,65.08 550.32,67.78" fill="#ff6a28"/>
<polygon points="564.03,72.29 568.59,69.53 564.03,65.86 559.46,68.53" fill="#ff7428"/>
<polygon points="573.15,73.5 577.71,70.77 573.16,66.88 568.59,69.53" fill="#ff8129"/>
<polygon points="582.25,74.96 586.82,72.25 582.28,68.14 577.71,70.77" fill="#ff9329"/>
<polygon points="591.33,76.66 595.9,73.97 591.38,69.64 586.82,72.25" fill="#ffa829"/>
<polygon points="600.39,78.6 604.95,75.93 600.46,71.38 595.9,73.97" fill="#ffc32a"/>
<polygon points="609.42,80.78 613.97,78.12 609.51,73.35 604.95,75.93" fill="#ffe22a"/>
<polygon points="504.63,73.14 509.16,70.11 504.56,67.64 500.03,70.6" fill="#ff7625"/>
<polygon points="513.77,72.87 518.31,69.87 513.7,67.18 509.16,70.11" fill="#ff7026"/>
<polygon points="522.91,72.83 527.46,69.86 522.85,66.97 518.31,69.87" fill="#ff6d26"/>
<polygon points="532.06,73.05 536.61,70.1 532.01,67 527.46,69.86" fill="#ff6d27"/>
<polygon points="541.2,73.5 545.76,70.59 541.16,67.27 536.61,70.1" fill="#ff7128"/>
<polygon points="550.34,74.2 554.9,71.32 550.32,67.78 545.76,70.59" fill="#ff7728"/>
<polygon points="559.47,75.15 564.03,72.29 559.46,68.53 554.9,71.32" fill="#ff8129"/>
<polygon points="568.59,76.34 573.15,73.5 568.59,69.53 564.03,72.29" fill="#ff8e29"/>
<polygon points="577.69,77.78 582.25,74.96 577.71,70.77 573.15,73.5" fill="#ffa02a"/>
<polygon points="586.77,79.46 591.33,76.66 586.82,72.25 582.25,74.96" fill="#ffb52a"/>
<polygon points="595.83,81.38 600.39,78.6 595.9,73.97 591.33,76.66" fill="#ffcf2a"/>
<polygon points="604.87,83.54 609.42,80.78 604.95,75.93 600.39,78.6" fill="#ffef2a"/>
<polygon points="509.24,75.98 513.77,72.87 509.16,70.11 504.63,73.14" fill="#ff8126"/>
<polygon points="518.37,75.91 522.91,72.83 518.31,69.87 513.77,72.87" fill="#ff7d27"/>
<polygon points="527.51,76.1 532.06,73.05 527.46,69.86 522.91,72.83" fill="#ff7d28"/>
<polygon points="536.65,76.52 541.2,73.5 536.61,70.1 532.06,73.05" fill="#ff8028"/>
<polygon points="545.79,77.2 550.34,74.2 545.76,70.59 541.2,73.5" fill="#ff8629"/>
<polygon points="554.92,78.12 559.47,75.15 554.9,71.32 550.34,74.2" fill="#ff9029"/>
<polygon points="564.03,79.29 568.59,76.34 564.03,72.29 559.47,75.15" fill="#ff9d2a"/>
<polygon points="573.13,80.7 577.69,77.78 573.15,73.5 568.59,76.34" fill="#ffae2a"/>
<polygon points="582.22,82.36 586.77,79.46 582.25,74.96 577.69,77.78" fill="#ffc42a"/>
<polygon points="591.28,84.26 595.83,81.38 591.33,76.66 586.77,79.46" fill="#ffde2b"/>
<polygon points="600.31,86.4 604.87,83.54 600.39,78.6 595.83,81.38" fill="#fffd2b"/>
<polygon points="513.84,79.1 518.37,75.91 513.77,72.87 509.24,75.98" fill="#ff9027"/>
<polygon points="522.98,79.25 527.51,76.1 522.91,72.83 518.37,75.91" fill="#ff8f28"/>
<polygon points="532.11,79.65 536.65,76.52 532.06,73.05 527.51,76.1" fill="#ff9129"/>
<polygon points="541.24,80.3 545.79,77.2 541.2,73.5 536.65,76.52" fill="#ff9729"/>
<polygon points="550.37,81.19 554.92,78.12 550.34,74.2 545.79,77.2" fill="#ffa02a"/>
<polygon points="559.48,82.34 564.03,79.29 559.47,75.15 554.92,78.12" fill="#ffad2a"/>
<polygon points="568.58,83.73 573.13,80.7 568.59,76.34 564.03,79.29" fill="#ffbe2a"/>
<polygon points="577.66,85.36 582.22,82.36 577.69,77.78 573.13,80.7" fill="#ffd32b"/>
<polygon points="586.73,87.25 591.28,84.26 586.77,79.46 582.22,82.36" fill="#ffed2b"/>
<polygon points="595.76,89.37 600.31,86.4 595.83,81.38 591.28,84.26" fill="#f5ff2b"/>
<polygon points="518.45,82.52 522.98,79.25 518.37,75.91 513.84,79.1" fill="#ffa329"/>
<polygon points="527.58,82.89 532.11,79.65 527.51,76.1 522.98,79.25" fill="#ffa429"/>
<polygon points="536.7,83.51 541.24,80.3 536.65,76.52 532.11,79.65" fill="#ffa92a"/>
<polygon points="545.82,84.38 550.37,81.19 545.79,77.2 541.24,80.3" fill="#ffb22a"/>
<polygon points="554.94,85.5 559.48,82.34 554.92,78.12 550.37,81.19" fill="#ffbf2b"/>
<polygon points="564.03,86.86 568.58,83.73 564.03,79.29 559.48,82.34" fill="#ffd02b"/>
<polygon points="573.12,88.48 577.66,85.36 573.13,80.7 568.58,83.73" fill="#ffe52b"/>
<polygon points="582.18,90.34 586.73,87.25 582.22,82.36 577.66,85.36" fill="#ffff2b"/>
<polygon points="591.22,92.45 595.76,89.37 591.28,84.26 586.73,87.25" fill="#e9ff2b"/>
<polygon points="523.05,86.24 527.58,82.89 522.98,79.25 518.45,82.52" fill="#ffb92a"/>
<polygon points="532.17,86.83 536.7,83.51 532.11,79.65 527.58,82.89" fill="#ffbe2a"/>
<polygon points="541.29,87.67 545.82,84.38 541.24,80.3 536.7,83.51" fill="#ffc62b"/>
<polygon points="550.4,88.77 554.94,85.5 550.37,81.19 545.82,84.38" fill="#ffd32b"/>
<polygon points="559.49,90.11 564.03,86.86 559.48,82.34 554.94,85.5" fill="#ffe32b"/>
<polygon points="568.57,91.7 573.12,88.48 568.58,83.73 564.03,86.86" fill="#fff82c"/>
<polygon points="577.64,93.54 582.18,90.34 577.66,85.36 573.12,88.48" fill="#f1ff2c"/>
<polygon points="586.67,95.63 591.22,92.45 586.73,87.25 582.18,90.34" fill="#dcff2c"/>
<polygon points="527.65,90.27 532.17,86.83 527.58,82.89 523.05,86.24" fill="#ffd42b"/>
<polygon points="536.76,91.08 541.29,87.67 536.7,83.51 532.17,86.83" fill="#ffdc2b"/>
<polygon points="545.86,92.15 550.4,88.77 545.82,84.38 541.29,87.67" fill="#ffe82b"/>
<polygon points="554.96,93.46 559.49,90.11 554.94,85.5 550.4,88.77" fill="#fff82c"/>
<polygon points="564.04,95.03 568.57,91.7 564.03,86.86 559.49,90.11" fill="#f5ff2c"/>
<polygon points="573.1,96.86 577.64,93.54 573.12,88.48 568.57,91.7" fill="#e3ff2c"/>
<polygon points="582.14,98.93 586.67,95.63 582.18,90.34 577.64,93.54" fill="#cdff2c"/>
<polygon points="532.24,94.6 536.76,91.08 532.17,86.83 527.65,90.27" fill="#fff42b"/>
<polygon points="541.34,95.64 545.86,92.15 541.29,87.67 536.76,91.08" fill="#ffff2c"/>
<polygon points="550.43,96.93 554.96,93.46 550.4,88.77 545.86,92.15" fill="#f3ff2c"/>
<polygon points="559.5,98.48 564.04,95.03 559.49,90.11 554.96,93.46" fill="#e5ff2c"/>
<polygon points="568.56,100.28 573.1,96.86 568.57,91.7 564.04,95.03" fill="#d3ff2d"/>
<polygon points="577.6,102.33 582.14,98.93 577.64,93.54 573.1,96.86" fill="#beff2d"/>
<polygon points="536.82,99.25 541.34,95.64 536.76,91.08 532.24,94.6" fill="#ecff2c"/>
<polygon points="545.91,100.52 550.43,96.93 545.86,92.15 541.34,95.64" fill="#e1ff2c"/>
<polygon points="554.98,102.04 559.5,98.48 554.96,93.46 550.43,96.93" fill="#d3ff2d"/>
<polygon points="564.04,103.82 568.56,100.28 564.04,95.03 559.5,98.48" fill="#c2ff2d"/>
<polygon points="573.07,105.85 577.6,102.33 573.1,96.86 568.56,100.28" fill="#aeff2d"/>
<polygon points="541.39,104.22 545.91,100.52 541.34,95.64 536.82,99.25" fill="#cfff2d"/>
<polygon points="550.46,105.72 554.98,102.04 550.43,96.93 545.91,100.52" fill="#c1ff2d"/>
<polygon points="559.52,107.47 564.04,103.82 559.5,98.48 554.98,102.04" fill="#b1ff2d"/>
<polygon points="568.55,109.48 573.07,105.85 568.56,100.28 564.04,103.82" fill="#9dff2d"/>
<polygon points="545.95,109.51 550.46,105.72 545.91,100.52 541.39,104.22" fill="#aeff2d"/>
<polygon points="555,111.24 559.52,107.47 554.98,102.04 550.46,105.72" fill="#9eff2e"/>
<polygon points="564.04,113.23 568.55,109.48 564.04,103.82 559.52,107.47" fill="#8cff2e"/>
<polygon points="550.5,115.13 555,111.24 550.46,105.72 545.95,109.51" fill="#8bff2e"/>
<polygon points="559.53,117.1 564.04,113.23 559.52,107.47 555,111.24" fill="#79ff2e"/>
<polygon points="555.03,121.08 559.53,117.1 555,111.24 550.5,115.13" fill="#65ff2e"/>
</g>
<polygon points="338.3,413.3 421.4,378.8 421.6,264.1 333,286.8" fill="#fff" stroke="#3a3a3a" stroke-width="0.7"/>
<polygon points="421.4,378.8 504.5,413.5 509.2,286.8 421.6,264.1" fill="#fff" stroke="#3a3a3a" stroke-width="0.7"/>
<path d="M354.92 406.4L350.72 282.26M371.54 399.5L368.44 277.72M388.16 392.6L386.16 273.18M404.78 385.7L403.88 268.64M483.73 404.82L487.3 281.12M462.95 396.15L465.4 275.45M442.17 387.48L443.5 269.78M333.81 306.02L421.57 281.52L508.49 306.05M334.61 325.23L421.54 298.95L507.77 325.29M335.42 344.45L421.51 316.37L507.06 344.54M336.22 363.66L421.48 333.79L506.34 363.78M337.03 382.88L421.45 351.21L505.63 383.03" fill="none" stroke="#3a3a3a" stroke-width="0.7"/>
<polygon points="421,458.1 504.5,413.5 421.4,378.8 338.3,413.3" fill="#606060" stroke="#3a3a3a" stroke-width="0.5"/>
<path d="M366.6 401.6C368.08 401.53 372.53 401.27 375.5 401.2C378.47 401.13 381.23 401.12 384.4 401.2C387.57 401.28 391.2 401.43 394.5 401.7C397.8 401.97 401.2 402.35 404.2 402.8C407.2 403.25 409.87 403.73 412.5 404.4C415.13 405.07 417.92 405.93 420 406.8C422.08 407.67 423.67 408.63 425 409.6C426.33 410.57 427.38 411.67 428 412.6C428.62 413.53 428.83 414.27 428.7 415.2C428.57 416.13 428 417.17 427.2 418.2C426.4 419.23 425.18 420.43 423.9 421.4C422.62 422.37 421.13 423.18 419.5 424C417.87 424.82 416.6 425.37 414.1 426.3C411.6 427.23 407.8 428.6 404.5 429.6C401.2 430.6 397.3 431.53 394.3 432.3C391.3 433.07 388.97 433.62 386.5 434.2C384.03 434.78 380.67 435.53 379.5 435.8" fill="none" stroke="#e0302c" stroke-width="1.5" stroke-linecap="butt"/>
<path d="M382.4 395.1C384.17 395.03 389.37 394.77 393 394.7C396.63 394.63 400.62 394.6 404.2 394.7C407.78 394.8 411.22 395.07 414.5 395.3C417.78 395.53 420.48 395.68 423.9 396.1C427.32 396.52 431.9 397.23 435 397.8C438.1 398.37 440.08 398.87 442.5 399.5C444.92 400.13 447.33 400.8 449.5 401.6C451.67 402.4 453.68 403.3 455.5 404.3C457.32 405.3 459.15 406.6 460.4 407.6C461.65 408.6 462.48 409.4 463 410.3C463.52 411.2 463.58 412.08 463.5 413C463.42 413.92 463.02 414.9 462.5 415.8C461.98 416.7 461.57 417.37 460.4 418.4C459.23 419.43 457.32 420.83 455.5 422C453.68 423.17 452.08 424.23 449.5 425.4C446.92 426.57 443.28 427.85 440 429C436.72 430.15 433.13 431.3 429.8 432.3C426.47 433.3 423.3 434.15 420 435C416.7 435.85 413.33 436.67 410 437.4C406.67 438.13 403.45 438.73 400 439.4C396.55 440.07 391.08 441.07 389.3 441.4" fill="none" stroke="#ee6428" stroke-width="1.5" stroke-linecap="butt"/>
<path d="M396.3 389.4C397.75 389.32 402.03 389 405 388.9C407.97 388.8 410.85 388.73 414.1 388.8C417.35 388.87 421.02 389 424.5 389.3C427.98 389.6 432 390.22 435 390.6C438 390.98 440.08 391.23 442.5 391.6C444.92 391.97 446.67 392.08 449.5 392.8C452.33 393.52 456.2 394.75 459.5 395.9C462.8 397.05 465.97 398.3 469.3 399.7C472.63 401.1 476.72 402.98 479.5 404.3C482.28 405.62 484.25 406.68 486 407.6C487.75 408.52 489.17 409.15 490 409.8C490.83 410.45 491.03 410.83 491 411.5C490.97 412.17 490.62 412.78 489.8 413.8C488.98 414.82 488.07 416.1 486.1 417.6C484.13 419.1 480.8 421.18 478 422.8C475.2 424.42 472.38 425.85 469.3 427.3C466.22 428.75 462.8 430.18 459.5 431.5C456.2 432.82 452.75 434.03 449.5 435.2C446.25 436.37 443.28 437.5 440 438.5C436.72 439.5 433.13 440.42 429.8 441.2C426.47 441.98 423.3 442.58 420 443.2C416.7 443.82 413.3 444.28 410 444.9C406.7 445.52 401.83 446.57 400.2 446.9" fill="none" stroke="#f2cc1c" stroke-width="1.5" stroke-linecap="butt"/>
<path d="M407.1 384.8C408.5 384.77 412.7 384.6 415.5 384.6C418.3 384.6 421.48 384.53 423.9 384.8C426.32 385.07 427.87 385.63 430 386.2C432.13 386.77 435.58 387.87 436.7 388.2" fill="none" stroke="#b4dc22" stroke-width="1.5" stroke-linecap="butt"/>
<path d="M409.1 451.6C410.33 451.35 414.03 450.58 416.5 450.1C418.97 449.62 420.82 449.45 423.9 448.7C426.98 447.95 431.9 446.48 435 445.6C438.1 444.72 440.08 444.13 442.5 443.4C444.92 442.67 447.52 441.85 449.5 441.2C451.48 440.55 453.58 439.78 454.4 439.5" fill="none" stroke="#b4dc22" stroke-width="1.5" stroke-linecap="butt"/>
<path d="M415 381.9C415.67 381.8 417.83 381.37 419 381.3C420.17 381.23 421.03 381.23 422 381.5C422.97 381.77 424.33 382.67 424.8 382.9" fill="none" stroke="#5ad82a" stroke-width="1.5" stroke-linecap="butt"/>
<path d="M415.6 454.8C416.65 454.53 419.85 453.67 421.9 453.2C423.95 452.73 425.6 452.53 427.9 452C430.2 451.47 434.07 450.5 435.7 450C437.33 449.5 437.37 449.17 437.7 449" fill="none" stroke="#5ad82a" stroke-width="1.5" stroke-linecap="butt"/>
<g stroke="#1c0c04" stroke-opacity="0.72" stroke-width="0.45" stroke-linejoin="round">
<polygon points="421.5,303.84 425.83,305.8 421.52,307.29 417.2,305.2" fill="#2ba31a"/>
<polygon points="417.16,302 421.5,303.84 417.2,305.2 412.85,303.25" fill="#47a31a"/>
<polygon points="425.82,302.66 430.15,304.51 425.83,305.8 421.5,303.84" fill="#42a31a"/>
<polygon points="412.8,300.29 417.16,302 412.85,303.25 408.49,301.41" fill="#62a31a"/>
<polygon points="421.47,300.95 425.82,302.66 421.5,303.84 417.16,302" fill="#5da31a"/>
<polygon points="430.14,301.69 434.47,303.41 430.15,304.51 425.82,302.66" fill="#57a31a"/>
<polygon points="408.42,298.71 412.8,300.29 408.49,301.41 404.12,299.71" fill="#7ca31a"/>
<polygon points="417.11,299.37 421.47,300.95 417.16,302 412.8,300.29" fill="#77a31a"/>
<polygon points="425.8,300.11 430.14,301.69 425.82,302.66 421.47,300.95" fill="#71a31a"/>
<polygon points="434.47,300.93 438.8,302.52 434.47,303.41 430.14,301.69" fill="#6aa31a"/>
<polygon points="404.04,297.27 408.42,298.71 404.12,299.71 399.73,298.14" fill="#94a31a"/>
<polygon points="412.74,297.92 417.11,299.37 412.8,300.29 408.42,298.71" fill="#8fa31a"/>
<polygon points="421.44,298.65 425.8,300.11 421.47,300.95 417.11,299.37" fill="#89a31a"/>
<polygon points="430.13,299.47 434.47,300.93 430.14,301.69 425.8,300.11" fill="#83a31a"/>
<polygon points="438.81,300.37 443.14,301.83 438.8,302.52 434.47,300.93" fill="#7ba31a"/>
<polygon points="399.64,295.96 404.04,297.27 399.73,298.14 395.34,296.7" fill="#a3991a"/>
<polygon points="408.36,296.61 412.74,297.92 408.42,298.71 404.04,297.27" fill="#a39f1a"/>
<polygon points="417.06,297.34 421.44,298.65 417.11,299.37 412.74,297.92" fill="#a1a31a"/>
<polygon points="425.77,298.15 430.13,299.47 425.8,300.11 421.44,298.65" fill="#9aa31a"/>
<polygon points="434.46,299.04 438.81,300.37 434.47,300.93 430.13,299.47" fill="#93a31a"/>
<polygon points="443.15,300.02 447.48,301.35 443.14,301.83 438.81,300.37" fill="#8aa31a"/>
<polygon points="395.24,294.8 399.64,295.96 395.34,296.7 390.93,295.41" fill="#a37e1a"/>
<polygon points="403.96,295.43 408.36,296.61 404.04,297.27 399.64,295.96" fill="#a3831a"/>
<polygon points="412.68,296.16 417.06,297.34 412.74,297.92 408.36,296.61" fill="#a38a1a"/>
<polygon points="421.4,296.96 425.77,298.15 421.44,298.65 417.06,297.34" fill="#a3921a"/>
<polygon points="430.1,297.85 434.46,299.04 430.13,299.47 425.77,298.15" fill="#a39b1a"/>
<polygon points="438.8,298.83 443.15,300.02 438.81,300.37 434.46,299.04" fill="#a1a31a"/>
<polygon points="447.49,299.89 451.83,301.08 447.48,301.35 443.15,300.02" fill="#98a31a"/>
<polygon points="390.82,293.77 395.24,294.8 390.93,295.41 386.51,294.25" fill="#a3661a"/>
<polygon points="399.56,294.4 403.96,295.43 399.64,295.96 395.24,294.8" fill="#a36a1a"/>
<polygon points="408.29,295.12 412.68,296.16 408.36,296.61 403.96,295.43" fill="#a3701a"/>
<polygon points="417.02,295.92 421.4,296.96 417.06,297.34 412.68,296.16" fill="#a3771a"/>
<polygon points="425.73,296.8 430.1,297.85 425.77,298.15 421.4,296.96" fill="#a3801a"/>
<polygon points="434.45,297.77 438.8,298.83 434.46,299.04 430.1,297.85" fill="#a38a1a"/>
<polygon points="443.15,298.83 447.49,299.89 443.15,300.02 438.8,298.83" fill="#a3961a"/>
<polygon points="451.84,299.97 456.17,301.03 451.83,301.08 447.49,299.89" fill="#a3a31a"/>
<polygon points="386.4,292.89 390.82,293.77 386.51,294.25 382.09,293.23" fill="#a3511a"/>
<polygon points="395.15,293.51 399.56,294.4 395.24,294.8 390.82,293.77" fill="#a3551a"/>
<polygon points="403.89,294.22 408.29,295.12 403.96,295.43 399.56,294.4" fill="#a35a1a"/>
<polygon points="412.62,295.01 417.02,295.92 412.68,296.16 408.29,295.12" fill="#a3601a"/>
<polygon points="421.35,295.9 425.73,296.8 421.4,296.96 417.02,295.92" fill="#a3681a"/>
<polygon points="430.08,296.86 434.45,297.77 430.1,297.85 425.73,296.8" fill="#a3711a"/>
<polygon points="438.79,297.92 443.15,298.83 438.8,298.83 434.45,297.77" fill="#a37c1a"/>
<polygon points="447.5,299.05 451.84,299.97 447.49,299.89 443.15,298.83" fill="#a3891a"/>
<polygon points="456.19,300.28 460.52,301.2 456.17,301.03 451.84,299.97" fill="#a3971a"/>
<polygon points="381.97,292.15 386.4,292.89 382.09,293.23 377.66,292.35" fill="#a33f1a"/>
<polygon points="390.73,292.77 395.15,293.51 390.82,293.77 386.4,292.89" fill="#a3431a"/>
<polygon points="399.48,293.47 403.89,294.22 399.56,294.4 395.15,293.51" fill="#a3471a"/>
<polygon points="408.22,294.26 412.62,295.01 408.29,295.12 403.89,294.22" fill="#a34d1a"/>
<polygon points="416.96,295.13 421.35,295.9 417.02,295.92 412.62,295.01" fill="#a3541a"/>
<polygon points="425.7,296.1 430.08,296.86 425.73,296.8 421.35,295.9" fill="#a35c1a"/>
<polygon points="434.42,297.14 438.79,297.92 434.45,297.77 430.08,296.86" fill="#a3661a"/>
<polygon points="443.14,298.28 447.5,299.05 443.15,298.83 438.79,297.92" fill="#a3711a"/>
<polygon points="451.85,299.5 456.19,300.28 451.84,299.97 447.5,299.05" fill="#a37e1a"/>
<polygon points="460.54,300.81 464.87,301.59 460.52,301.2 456.19,300.28" fill="#a38d1a"/>
<polygon points="377.54,291.57 381.97,292.15 377.66,292.35 373.22,291.63" fill="#a3311a"/>
<polygon points="386.3,292.17 390.73,292.77 386.4,292.89 381.97,292.15" fill="#a3331a"/>
<polygon points="395.06,292.86 399.48,293.47 395.15,293.51 390.73,292.77" fill="#a3371a"/>
<polygon points="403.81,293.65 408.22,294.26 403.89,294.22 399.48,293.47" fill="#a33c1a"/>
<polygon points="412.56,294.52 416.96,295.13 412.62,295.01 408.22,294.26" fill="#a3421a"/>
<polygon points="421.31,295.47 425.7,296.1 421.35,295.9 416.96,295.13" fill="#a34a1a"/>
<polygon points="430.05,296.52 434.42,297.14 430.08,296.86 425.7,296.1" fill="#a4531a"/>
<polygon points="438.77,297.65 443.14,298.28 438.79,297.92 434.42,297.14" fill="#a65e1a"/>
<polygon points="447.49,298.87 451.85,299.5 447.5,299.05 443.14,298.28" fill="#a86b1a"/>
<polygon points="456.19,300.18 460.54,300.81 456.19,300.28 451.85,299.5" fill="#aa7a1a"/>
<polygon points="464.88,301.57 469.22,302.2 464.87,301.59 460.54,300.81" fill="#ab8c1a"/>
<polygon points="373.1,291.13 377.54,291.57 373.22,291.63 368.78,291.05" fill="#a3251a"/>
<polygon points="381.87,291.73 386.3,292.17 381.97,292.15 377.54,291.57" fill="#a4271a"/>
<polygon points="390.64,292.41 395.06,292.86 390.73,292.77 386.3,292.17" fill="#a62b1a"/>
<polygon points="399.4,293.19 403.81,293.65 399.48,293.47 395.06,292.86" fill="#a82f1a"/>
<polygon points="408.16,294.05 412.56,294.52 408.22,294.26 403.81,293.65" fill="#aa351a"/>
<polygon points="416.91,295 421.31,295.47 416.96,295.13 412.56,294.52" fill="#ac3c1a"/>
<polygon points="425.66,296.04 430.05,296.52 425.7,296.1 421.31,295.47" fill="#ae451a"/>
<polygon points="434.39,297.17 438.77,297.65 434.42,297.14 430.05,296.52" fill="#af4f1a"/>
<polygon points="443.12,298.39 447.49,298.87 443.14,298.28 438.77,297.65" fill="#b15c1a"/>
<polygon points="451.84,299.69 456.19,300.18 451.85,299.5 447.49,298.87" fill="#b36b1a"/>
<polygon points="460.54,301.09 464.88,301.57 460.54,300.81 456.19,300.18" fill="#b57c1a"/>
<polygon points="469.22,302.57 473.56,303.05 469.22,302.2 464.88,301.57" fill="#b68f1a"/>
<polygon points="368.66,290.85 373.1,291.13 368.78,291.05 364.33,290.62" fill="#ab1d1a"/>
<polygon points="377.43,291.44 381.87,291.73 377.54,291.57 373.1,291.13" fill="#ae1f1a"/>
<polygon points="386.21,292.11 390.64,292.41 386.3,292.17 381.87,291.73" fill="#af211a"/>
<polygon points="394.98,292.88 399.4,293.19 395.06,292.86 390.64,292.41" fill="#b1251a"/>
<polygon points="403.75,293.73 408.16,294.05 403.81,293.65 399.4,293.19" fill="#b32a1a"/>
<polygon points="412.51,294.68 416.91,295 412.56,294.52 408.16,294.05" fill="#b5301a"/>
<polygon points="421.26,295.72 425.66,296.04 421.31,295.47 416.91,295" fill="#b7381a"/>
<polygon points="430.01,296.84 434.39,297.17 430.05,296.52 425.66,296.04" fill="#b9421a"/>
<polygon points="438.74,298.06 443.12,298.39 438.77,297.65 434.39,297.17" fill="#bb4d1a"/>
<polygon points="447.47,299.36 451.84,299.69 447.49,298.87 443.12,298.39" fill="#bc5b1a"/>
<polygon points="456.18,300.75 460.54,301.09 456.19,300.18 451.84,299.69" fill="#be6c1a"/>
<polygon points="464.88,302.23 469.22,302.57 464.88,301.57 460.54,301.09" fill="#c07f1a"/>
<polygon points="473.56,303.79 477.9,304.13 473.56,303.05 469.22,302.57" fill="#c1951a"/>
<polygon points="364.22,290.72 368.66,290.85 364.33,290.62 359.89,290.35" fill="#b51a1a"/>
<polygon points="373,291.3 377.43,291.44 373.1,291.13 368.66,290.85" fill="#b71a1a"/>
<polygon points="381.78,291.97 386.21,292.11 381.87,291.73 377.43,291.44" fill="#b91a1a"/>
<polygon points="390.55,292.73 394.98,292.88 390.64,292.41 386.21,292.11" fill="#bb1d1a"/>
<polygon points="399.33,293.57 403.75,293.73 399.4,293.19 394.98,292.88" fill="#bd201a"/>
<polygon points="408.1,294.51 412.51,294.68 408.16,294.05 403.75,293.73" fill="#bf261a"/>
<polygon points="416.86,295.55 421.26,295.72 416.91,295 412.51,294.68" fill="#c02c1a"/>
<polygon points="425.61,296.67 430.01,296.84 425.66,296.04 421.26,295.72" fill="#c2351a"/>
<polygon points="434.36,297.88 438.74,298.06 434.39,297.17 430.01,296.84" fill="#c4401a"/>
<polygon points="443.09,299.18 447.47,299.36 443.12,298.39 438.74,298.06" fill="#c64d1a"/>
<polygon points="451.82,300.57 456.18,300.75 451.84,299.69 447.47,299.36" fill="#c75d1a"/>
<polygon points="460.52,302.05 464.88,302.23 460.54,301.09 456.18,300.75" fill="#c96f1a"/>
<polygon points="469.22,303.61 473.56,303.79 469.22,302.57 464.88,302.23" fill="#ca841a"/>
<polygon points="477.89,305.26 482.23,305.45 477.9,304.13 473.56,303.79" fill="#cc9d1a"/>
<polygon points="359.77,290.76 364.22,290.72 359.89,290.35 355.44,290.24" fill="#be1a1a"/>
<polygon points="368.56,291.32 373,291.3 368.66,290.85 364.22,290.72" fill="#c01a1a"/>
<polygon points="377.34,291.98 381.78,291.97 377.43,291.44 373,291.3" fill="#c21a1a"/>
<polygon points="386.13,292.73 390.55,292.73 386.21,292.11 381.78,291.97" fill="#c41a1a"/>
<polygon points="394.91,293.57 399.33,293.57 394.98,292.88 390.55,292.73" fill="#c61a1a"/>
<polygon points="403.68,294.51 408.1,294.51 403.75,293.73 399.33,293.57" fill="#c81d1a"/>
<polygon points="412.45,295.53 416.86,295.55 412.51,294.68 408.1,294.51" fill="#ca231a"/>
<polygon points="421.21,296.65 425.61,296.67 421.26,295.72 416.86,295.55" fill="#cc2a1a"/>
<polygon points="429.97,297.85 434.36,297.88 430.01,296.84 425.61,296.67" fill="#cd341a"/>
<polygon points="438.71,299.15 443.09,299.18 438.74,298.06 434.36,297.88" fill="#cf401a"/>
<polygon points="447.44,300.54 451.82,300.57 447.47,299.36 443.09,299.18" fill="#d14f1a"/>
<polygon points="456.16,302.01 460.52,302.05 456.18,300.75 451.82,300.57" fill="#d2601a"/>
<polygon points="464.86,303.58 469.22,303.61 464.88,302.23 460.52,302.05" fill="#d4751a"/>
<polygon points="473.55,305.23 477.89,305.26 473.56,303.79 469.22,303.61" fill="#d58d1a"/>
<polygon points="482.22,306.98 486.55,307 482.23,305.45 477.89,305.26" fill="#d7a81a"/>
<polygon points="355.33,290.95 359.77,290.76 355.44,290.24 350.99,290.28" fill="#c81a1a"/>
<polygon points="364.12,291.51 368.56,291.32 364.22,290.72 359.77,290.76" fill="#ca1a1a"/>
<polygon points="372.91,292.16 377.34,291.98 373,291.3 368.56,291.32" fill="#cc1a1a"/>
<polygon points="381.7,292.9 386.13,292.73 381.78,291.97 377.34,291.98" fill="#ce1a1a"/>
<polygon points="390.48,293.73 394.91,293.57 390.55,292.73 386.13,292.73" fill="#d01a1a"/>
<polygon points="399.26,294.66 403.68,294.51 399.33,293.57 394.91,293.57" fill="#d11a1a"/>
<polygon points="408.04,295.67 412.45,295.53 408.1,294.51 403.68,294.51" fill="#d31c1a"/>
<polygon points="416.81,296.78 421.21,296.65 416.86,295.55 412.45,295.53" fill="#d5211a"/>
<polygon points="425.57,297.99 429.97,297.85 425.61,296.67 421.21,296.65" fill="#d72a1a"/>
<polygon points="434.32,299.28 438.71,299.15 434.36,297.88 429.97,297.85" fill="#d8351a"/>
<polygon points="443.06,300.67 447.44,300.54 443.09,299.18 438.71,299.15" fill="#da421a"/>
<polygon points="451.79,302.14 456.16,302.01 451.82,300.57 447.44,300.54" fill="#db531a"/>
<polygon points="460.5,303.71 464.86,303.58 460.52,302.05 456.16,302.01" fill="#dd671a"/>
<polygon points="469.2,305.36 473.55,305.23 469.22,303.61 464.86,303.58" fill="#de7e1a"/>
<polygon points="477.87,307.1 482.22,306.98 477.89,305.26 473.55,305.23" fill="#e0981a"/>
<polygon points="486.53,308.93 490.87,308.8 486.55,307 482.22,306.98" fill="#e1b71a"/>
<polygon points="350.89,291.31 355.33,290.95 350.99,290.28 346.54,290.49" fill="#d11a1a"/>
<polygon points="359.68,291.85 364.12,291.51 359.77,290.76 355.33,290.95" fill="#d31a1a"/>
<polygon points="368.47,292.49 372.91,292.16 368.56,291.32 364.12,291.51" fill="#d51a1a"/>
<polygon points="377.26,293.22 381.7,292.9 377.34,291.98 372.91,292.16" fill="#d71a1a"/>
<polygon points="386.05,294.05 390.48,293.73 386.13,292.73 381.7,292.9" fill="#d91a1a"/>
<polygon points="394.84,294.97 399.26,294.66 394.91,293.57 390.48,293.73" fill="#db1a1a"/>
<polygon points="403.62,295.98 408.04,295.67 403.68,294.51 399.26,294.66" fill="#dc1a1a"/>
<polygon points="412.4,297.08 416.81,296.78 412.45,295.53 408.04,295.67" fill="#de1b1a"/>
<polygon points="421.17,298.28 425.57,297.99 421.21,296.65 416.81,296.78" fill="#e0211a"/>
<polygon points="429.92,299.57 434.32,299.28 429.97,297.85 425.57,297.99" fill="#e12b1a"/>
<polygon points="438.67,300.95 443.06,300.67 438.71,299.15 434.32,299.28" fill="#e3381a"/>
<polygon points="447.41,302.43 451.79,302.14 447.44,300.54 443.06,300.67" fill="#e4471a"/>
<polygon points="456.13,303.99 460.5,303.71 456.16,302.01 451.79,302.14" fill="#e65a1a"/>
<polygon points="464.83,305.65 469.2,305.36 464.86,303.58 460.5,303.71" fill="#e7701a"/>
<polygon points="473.52,307.39 477.87,307.1 473.55,305.23 469.2,305.36" fill="#e88a1a"/>
<polygon points="482.19,309.22 486.53,308.93 482.22,306.98 477.87,307.1" fill="#eaa81a"/>
<polygon points="490.84,311.14 495.18,310.85 490.87,308.8 486.53,308.93" fill="#ebca1a"/>
<polygon points="346.45,291.83 350.89,291.31 346.54,290.49 342.1,290.86" fill="#da1a1a"/>
<polygon points="355.24,292.37 359.68,291.85 355.33,290.95 350.89,291.31" fill="#dc1a1a"/>
<polygon points="364.04,293 368.47,292.49 364.12,291.51 359.68,291.85" fill="#de1a1a"/>
<polygon points="372.83,293.72 377.26,293.22 372.91,292.16 368.47,292.49" fill="#e01a1a"/>
<polygon points="381.63,294.53 386.05,294.05 381.7,292.9 377.26,293.22" fill="#e21a1a"/>
<polygon points="390.42,295.45 394.84,294.97 390.48,293.73 386.05,294.05" fill="#e41a1a"/>
<polygon points="399.21,296.45 403.62,295.98 399.26,294.66 394.84,294.97" fill="#e51a1a"/>
<polygon points="407.99,297.55 412.4,297.08 408.04,295.67 403.62,295.98" fill="#e71a1a"/>
<polygon points="416.76,298.74 421.17,298.28 416.81,296.78 412.4,297.08" fill="#e91b1a"/>
<polygon points="425.52,300.03 429.92,299.57 425.57,297.99 421.17,298.28" fill="#ea231a"/>
<polygon points="434.28,301.4 438.67,300.95 434.32,299.28 429.92,299.57" fill="#ec2e1a"/>
<polygon points="443.02,302.87 447.41,302.43 443.06,300.67 438.67,300.95" fill="#ed3d1a"/>
<polygon points="451.75,304.44 456.13,303.99 451.79,302.14 447.41,302.43" fill="#ee4f1a"/>
<polygon points="460.46,306.09 464.83,305.65 460.5,303.71 456.13,303.99" fill="#f0651a"/>
<polygon points="469.16,307.84 473.52,307.39 469.2,305.36 464.83,305.65" fill="#f17e1a"/>
<polygon points="477.84,309.67 482.19,309.22 477.87,307.1 473.52,307.39" fill="#f29b1a"/>
<polygon points="486.5,311.59 490.84,311.14 486.53,308.93 482.19,309.22" fill="#f3bc1a"/>
<polygon points="495.14,313.6 499.47,313.15 495.18,310.85 490.84,311.14" fill="#f4e21a"/>
<polygon points="342.01,292.52 346.45,291.83 342.1,290.86 337.66,291.39" fill="#e31a1a"/>
<polygon points="350.81,293.05 355.24,292.37 350.89,291.31 346.45,291.83" fill="#e51a1a"/>
<polygon points="359.61,293.67 364.04,293 359.68,291.85 355.24,292.37" fill="#e71a1a"/>
<polygon points="368.4,294.38 372.83,293.72 368.47,292.49 364.04,293" fill="#e91a1a"/>
<polygon points="377.2,295.19 381.63,294.53 377.26,293.22 372.83,293.72" fill="#eb1a1a"/>
<polygon points="386,296.09 390.42,295.45 386.05,294.05 381.63,294.53" fill="#ed1a1a"/>
<polygon points="394.79,297.09 399.21,296.45 394.84,294.97 390.42,295.45" fill="#ee1a1a"/>
<polygon points="403.57,298.18 407.99,297.55 403.62,295.98 399.21,296.45" fill="#f01a1a"/>
<polygon points="412.35,299.36 416.76,298.74 412.4,297.08 407.99,297.55" fill="#f11a1a"/>
<polygon points="421.12,300.65 425.52,300.03 421.17,298.28 416.76,298.74" fill="#f31d1a"/>
<polygon points="429.88,302.02 434.28,301.4 429.92,299.57 425.52,300.03" fill="#f4271a"/>
<polygon points="438.63,303.49 443.02,302.87 438.67,300.95 434.28,301.4" fill="#f6341a"/>
<polygon points="447.36,305.05 451.75,304.44 447.41,302.43 443.02,302.87" fill="#f7451a"/>
<polygon points="456.08,306.7 460.46,306.09 456.13,303.99 451.75,304.44" fill="#f85a1a"/>
<polygon points="464.79,308.45 469.16,307.84 464.83,305.65 460.46,306.09" fill="#f9731a"/>
<polygon points="473.47,310.28 477.84,309.67 473.52,307.39 469.16,307.84" fill="#fa901a"/>
<polygon points="482.14,312.21 486.5,311.59 482.19,309.22 477.84,309.67" fill="#fbb11a"/>
<polygon points="490.79,314.22 495.14,313.6 490.84,311.14 486.5,311.59" fill="#fcd61a"/>
<polygon points="499.42,316.32 503.75,315.7 499.47,313.15 495.14,313.6" fill="#fcfd1a"/>
<polygon points="337.58,293.39 342.01,292.52 337.66,291.39 333.22,292.09" fill="#ec1a1a"/>
<polygon points="346.38,293.9 350.81,293.05 346.45,291.83 342.01,292.52" fill="#ee1a1a"/>
<polygon points="355.18,294.51 359.61,293.67 355.24,292.37 350.81,293.05" fill="#f01a1a"/>
<polygon points="363.98,295.21 368.4,294.38 364.04,293 359.61,293.67" fill="#f21a1a"/>
<polygon points="372.77,296.01 377.2,295.19 372.83,293.72 368.4,294.38" fill="#f41a1a"/>
<polygon points="381.57,296.9 386,296.09 381.63,294.53 377.2,295.19" fill="#f51a1a"/>
<polygon points="390.37,297.89 394.79,297.09 390.42,295.45 386,296.09" fill="#f71a1a"/>
<polygon points="399.16,298.98 403.57,298.18 399.21,296.45 394.79,297.09" fill="#f81a1a"/>
<polygon points="407.94,300.16 412.35,299.36 407.99,297.55 403.57,298.18" fill="#fa1a1a"/>
<polygon points="416.71,301.43 421.12,300.65 416.76,298.74 412.35,299.36" fill="#fb1a1a"/>
<polygon points="425.48,302.8 429.88,302.02 425.52,300.03 421.12,300.65" fill="#fd211a"/>
<polygon points="434.23,304.27 438.63,303.49 434.28,301.4 429.88,302.02" fill="#fe2e1a"/>
<polygon points="442.97,305.83 447.36,305.05 443.02,302.87 438.63,303.49" fill="#ff3e1a"/>
<polygon points="451.7,307.48 456.08,306.7 451.75,304.44 447.36,305.05" fill="#ff521a"/>
<polygon points="460.41,309.22 464.79,308.45 460.46,306.09 456.08,306.7" fill="#ff691a"/>
<polygon points="469.11,311.06 473.47,310.28 469.16,307.84 464.79,308.45" fill="#ff851a"/>
<polygon points="477.78,312.99 482.14,312.21 477.84,309.67 473.47,310.28" fill="#ffa41b"/>
<polygon points="486.44,315 490.79,314.22 486.5,311.59 482.14,312.21" fill="#ffc81b"/>
<polygon points="495.08,317.11 499.42,316.32 495.14,313.6 490.79,314.22" fill="#ffef1b"/>
<polygon points="503.69,319.3 508.02,318.51 503.75,315.7 499.42,316.32" fill="#eaff1b"/>
<polygon points="341.95,294.93 346.38,293.9 342.01,292.52 337.58,293.39" fill="#f71a1a"/>
<polygon points="350.75,295.52 355.18,294.51 350.81,293.05 346.38,293.9" fill="#f91a1a"/>
<polygon points="359.55,296.22 363.98,295.21 359.61,293.67 355.18,294.51" fill="#fa1a1a"/>
<polygon points="368.35,297.01 372.77,296.01 368.4,294.38 363.98,295.21" fill="#fc1a1a"/>
<polygon points="377.15,297.89 381.57,296.9 377.2,295.19 372.77,296.01" fill="#fe1a1a"/>
<polygon points="385.95,298.87 390.37,297.89 386,296.09 381.57,296.9" fill="#ff1a1a"/>
<polygon points="394.74,299.95 399.16,298.98 394.79,297.09 390.37,297.89" fill="#ff1a1a"/>
<polygon points="403.52,301.12 407.94,300.16 403.57,298.18 399.16,298.98" fill="#ff1a1a"/>
<polygon points="412.3,302.39 416.71,301.43 412.35,299.36 407.94,300.16" fill="#ff1b1b"/>
<polygon points="421.07,303.76 425.48,302.8 421.12,300.65 416.71,301.43" fill="#ff1f1b"/>
<polygon points="429.83,305.22 434.23,304.27 429.88,302.02 425.48,302.8" fill="#ff2a1b"/>
<polygon points="438.58,306.78 442.97,305.83 438.63,303.49 434.23,304.27" fill="#ff381c"/>
<polygon points="447.31,308.43 451.7,307.48 447.36,305.05 442.97,305.83" fill="#ff4b1c"/>
<polygon points="456.03,310.17 460.41,309.22 456.08,306.7 451.7,307.48" fill="#ff611c"/>
<polygon points="464.73,312.01 469.11,311.06 464.79,308.45 460.41,309.22" fill="#ff7b1c"/>
<polygon points="473.41,313.93 477.78,312.99 473.47,310.28 469.11,311.06" fill="#ff991d"/>
<polygon points="482.08,315.95 486.44,315 482.14,312.21 477.78,312.99" fill="#ffbb1d"/>
<polygon points="490.72,318.06 495.08,317.11 490.79,314.22 486.44,315" fill="#ffe11d"/>
<polygon points="499.34,320.26 503.69,319.3 499.42,316.32 495.08,317.11" fill="#f6ff1d"/>
<polygon points="346.33,296.72 350.75,295.52 346.38,293.9 341.95,294.93" fill="#ff1a1a"/>
<polygon points="355.13,297.4 359.55,296.22 355.18,294.51 350.75,295.52" fill="#ff1a1a"/>
<polygon points="363.93,298.18 368.35,297.01 363.98,295.21 359.55,296.22" fill="#ff1b1b"/>
<polygon points="372.73,299.05 377.15,297.89 372.77,296.01 368.35,297.01" fill="#ff1b1b"/>
<polygon points="381.53,300.03 385.95,298.87 381.57,296.9 377.15,297.89" fill="#ff1c1c"/>
<polygon points="390.32,301.1 394.74,299.95 390.37,297.89 385.95,298.87" fill="#ff1c1c"/>
<polygon points="399.11,302.27 403.52,301.12 399.16,298.98 394.74,299.95" fill="#ff1c1c"/>
<polygon points="407.89,303.53 412.3,302.39 407.94,300.16 403.52,301.12" fill="#ff1d1d"/>
<polygon points="416.67,304.89 421.07,303.76 416.71,301.43 412.3,302.39" fill="#ff1e1d"/>
<polygon points="425.43,306.35 429.83,305.22 425.48,302.8 421.07,303.76" fill="#ff281d"/>
<polygon points="434.18,307.9 438.58,306.78 434.23,304.27 429.83,305.22" fill="#ff351d"/>
<polygon points="442.92,309.55 447.31,308.43 442.97,305.83 438.58,306.78" fill="#ff471e"/>
<polygon points="451.64,311.29 456.03,310.17 451.7,307.48 447.31,308.43" fill="#ff5c1e"/>
<polygon points="460.35,313.12 464.73,312.01 460.41,309.22 456.03,310.17" fill="#ff751e"/>
<polygon points="469.04,315.05 473.41,313.93 469.11,311.06 464.73,312.01" fill="#ff911e"/>
<polygon points="477.71,317.07 482.08,315.95 477.78,312.99 473.41,313.93" fill="#ffb21f"/>
<polygon points="486.36,319.18 490.72,318.06 486.44,315 482.08,315.95" fill="#ffd71f"/>
<polygon points="494.99,321.39 499.34,320.26 495.08,317.11 490.72,318.06" fill="#ffff1f"/>
<polygon points="350.72,298.76 355.13,297.4 350.75,295.52 346.33,296.72" fill="#ff1c1c"/>
<polygon points="359.52,299.53 363.93,298.18 359.55,296.22 355.13,297.4" fill="#ff1d1d"/>
<polygon points="368.32,300.39 372.73,299.05 368.35,297.01 363.93,298.18" fill="#ff1d1d"/>
<polygon points="377.12,301.36 381.53,300.03 377.15,297.89 372.73,299.05" fill="#ff1e1e"/>
<polygon points="385.91,302.42 390.32,301.1 385.95,298.87 381.53,300.03" fill="#ff1e1e"/>
<polygon points="394.7,303.58 399.11,302.27 394.74,299.95 390.32,301.1" fill="#ff1e1e"/>
<polygon points="403.49,304.84 407.89,303.53 403.52,301.12 399.11,302.27" fill="#ff1f1f"/>
<polygon points="412.26,306.2 416.67,304.89 412.3,302.39 407.89,303.53" fill="#ff1f1f"/>
<polygon points="421.03,307.65 425.43,306.35 421.07,303.76 416.67,304.89" fill="#ff271f"/>
<polygon points="429.78,309.2 434.18,307.9 429.83,305.22 425.43,306.35" fill="#ff341f"/>
<polygon points="438.52,310.84 442.92,309.55 438.58,306.78 434.18,307.9" fill="#ff4520"/>
<polygon points="447.25,312.58 451.64,311.29 447.31,308.43 442.92,309.55" fill="#ff5920"/>
<polygon points="455.96,314.42 460.35,313.12 456.03,310.17 451.64,311.29" fill="#ff7020"/>
<polygon points="464.66,316.34 469.04,315.05 464.73,312.01 460.35,313.12" fill="#ff8c20"/>
<polygon points="473.34,318.37 477.71,317.07 473.41,313.93 469.04,315.05" fill="#ffac20"/>
<polygon points="482,320.48 486.36,319.18 482.08,315.95 477.71,317.07" fill="#ffcf21"/>
<polygon points="490.63,322.69 494.99,321.39 490.72,318.06 486.36,319.18" fill="#fff721"/>
<polygon points="355.11,301.06 359.52,299.53 355.13,297.4 350.72,298.76" fill="#ff1f1f"/>
<polygon points="363.91,301.92 368.32,300.39 363.93,298.18 359.52,299.53" fill="#ff1f1f"/>
<polygon points="372.71,302.87 377.12,301.36 372.73,299.05 368.32,300.39" fill="#ff1f1f"/>
<polygon points="381.5,303.93 385.91,302.42 381.53,300.03 377.12,301.36" fill="#ff2020"/>
<polygon points="390.29,305.08 394.7,303.58 390.32,301.1 385.91,302.42" fill="#ff2020"/>
<polygon points="399.08,306.33 403.49,304.84 399.11,302.27 394.7,303.58" fill="#ff2020"/>
<polygon points="407.86,307.68 412.26,306.2 407.89,303.53 403.49,304.84" fill="#ff2121"/>
<polygon points="416.62,309.13 421.03,307.65 416.67,304.89 412.26,306.2" fill="#ff2821"/>
<polygon points="425.38,310.67 429.78,309.2 425.43,306.35 421.03,307.65" fill="#ff3421"/>
<polygon points="434.13,312.31 438.52,310.84 434.18,307.9 429.78,309.2" fill="#ff4421"/>
<polygon points="442.86,314.05 447.25,312.58 442.92,309.55 438.52,310.84" fill="#ff5822"/>
<polygon points="451.58,315.89 455.96,314.42 451.64,311.29 447.25,312.58" fill="#ff6f22"/>
<polygon points="460.28,317.82 464.66,316.34 460.35,313.12 455.96,314.42" fill="#ff8922"/>
<polygon points="468.96,319.84 473.34,318.37 469.04,315.05 464.66,316.34" fill="#ffa822"/>
<polygon points="477.62,321.95 482,320.48 477.71,317.07 473.34,318.37" fill="#ffca22"/>
<polygon points="486.27,324.16 490.63,322.69 486.36,319.18 482,320.48" fill="#fff122"/>
<polygon points="359.51,303.62 363.91,301.92 359.52,299.53 355.11,301.06" fill="#ff2121"/>
<polygon points="368.31,304.57 372.71,302.87 368.32,300.39 363.91,301.92" fill="#ff2121"/>
<polygon points="377.1,305.61 381.5,303.93 377.12,301.36 372.71,302.87" fill="#ff2222"/>
<polygon points="385.89,306.76 390.29,305.08 385.91,302.42 381.5,303.93" fill="#ff2222"/>
<polygon points="394.68,308.01 399.08,306.33 394.7,303.58 390.29,305.08" fill="#ff2222"/>
<polygon points="403.45,309.35 407.86,307.68 403.49,304.84 399.08,306.33" fill="#ff2322"/>
<polygon points="412.22,310.79 416.62,309.13 412.26,306.2 407.86,307.68" fill="#ff2a23"/>
<polygon points="420.98,312.33 425.38,310.67 421.03,307.65 416.62,309.13" fill="#ff3623"/>
<polygon points="429.73,313.97 434.13,312.31 429.78,309.2 425.38,310.67" fill="#ff4623"/>
<polygon points="438.47,315.71 442.86,314.05 438.52,310.84 434.13,312.31" fill="#ff5923"/>
<polygon points="447.19,317.54 451.58,315.89 447.25,312.58 442.86,314.05" fill="#ff6f23"/>
<polygon points="455.89,319.47 460.28,317.82 455.96,314.42 451.58,315.89" fill="#ff8923"/>
<polygon points="464.58,321.49 468.96,319.84 464.66,316.34 460.28,317.82" fill="#ffa724"/>
<polygon points="473.25,323.61 477.62,321.95 473.34,318.37 468.96,319.84" fill="#ffc824"/>
<polygon points="481.89,325.82 486.27,324.16 482,320.48 477.62,321.95" fill="#ffee24"/>
<polygon points="363.91,306.45 368.31,304.57 363.91,301.92 359.51,303.62" fill="#ff2323"/>
<polygon points="372.7,307.49 377.1,305.61 372.71,302.87 368.31,304.57" fill="#ff2323"/>
<polygon points="381.49,308.63 385.89,306.76 381.5,303.93 377.1,305.61" fill="#ff2323"/>
<polygon points="390.28,309.86 394.68,308.01 390.29,305.08 385.89,306.76" fill="#ff2424"/>
<polygon points="399.06,311.2 403.45,309.35 399.08,306.33 394.68,308.01" fill="#ff2624"/>
<polygon points="407.83,312.64 412.22,310.79 407.86,307.68 403.45,309.35" fill="#ff2e24"/>
<polygon points="416.59,314.17 420.98,312.33 416.62,309.13 412.22,310.79" fill="#ff3a24"/>
<polygon points="425.34,315.81 429.73,313.97 425.38,310.67 420.98,312.33" fill="#ff4925"/>
<polygon points="434.07,317.54 438.47,315.71 434.13,312.31 429.73,313.97" fill="#ff5c25"/>
<polygon points="442.8,319.37 447.19,317.54 442.86,314.05 438.47,315.71" fill="#ff7225"/>
<polygon points="451.5,321.3 455.89,319.47 451.58,315.89 447.19,317.54" fill="#ff8b25"/>
<polygon points="460.19,323.32 464.58,321.49 460.28,317.82 455.89,319.47" fill="#ffa825"/>
<polygon points="468.87,325.44 473.25,323.61 468.96,319.84 464.58,321.49" fill="#ffc925"/>
<polygon points="477.52,327.65 481.89,325.82 477.62,321.95 473.25,323.61" fill="#ffee25"/>
<polygon points="368.31,309.55 372.7,307.49 368.31,304.57 363.91,306.45" fill="#ff2525"/>
<polygon points="377.1,310.68 381.49,308.63 377.1,305.61 372.7,307.49" fill="#ff2525"/>
<polygon points="385.88,311.91 390.28,309.86 385.89,306.76 381.49,308.63" fill="#ff2525"/>
<polygon points="394.66,313.24 399.06,311.2 394.68,308.01 390.28,309.86" fill="#ff2a25"/>
<polygon points="403.43,314.67 407.83,312.64 403.45,309.35 399.06,311.2" fill="#ff3226"/>
<polygon points="412.19,316.2 416.59,314.17 412.22,310.79 407.83,312.64" fill="#ff3f26"/>
<polygon points="420.94,317.83 425.34,315.81 420.98,312.33 416.59,314.17" fill="#ff4e26"/>
<polygon points="429.68,319.56 434.07,317.54 429.73,313.97 425.34,315.81" fill="#ff6026"/>
<polygon points="438.41,321.39 442.8,319.37 438.47,315.71 434.07,317.54" fill="#ff7626"/>
<polygon points="447.12,323.32 451.5,321.3 447.19,317.54 442.8,319.37" fill="#ff8f26"/>
<polygon points="455.81,325.34 460.19,323.32 455.89,319.47 451.5,321.3" fill="#ffac26"/>
<polygon points="464.48,327.46 468.87,325.44 464.58,321.49 460.19,323.32" fill="#ffcd27"/>
<polygon points="473.14,329.67 477.52,327.65 473.25,323.61 468.87,325.44" fill="#fff127"/>
<polygon points="372.71,312.92 377.1,310.68 372.7,307.49 368.31,309.55" fill="#ff2626"/>
<polygon points="381.49,314.15 385.88,311.91 381.49,308.63 377.1,310.68" fill="#ff2827"/>
<polygon points="390.27,315.47 394.66,313.24 390.28,309.86 385.88,311.91" fill="#ff2f27"/>
<polygon points="399.04,316.9 403.43,314.67 399.06,311.2 394.66,313.24" fill="#ff3927"/>
<polygon points="407.8,318.42 412.19,316.2 407.83,312.64 403.43,314.67" fill="#ff4527"/>
<polygon points="416.55,320.05 420.94,317.83 416.59,314.17 412.19,316.2" fill="#ff5527"/>
<polygon points="425.29,321.78 429.68,319.56 425.34,315.81 420.94,317.83" fill="#ff6728"/>
<polygon points="434.02,323.6 438.41,321.39 434.07,317.54 429.68,319.56" fill="#ff7d28"/>
<polygon points="442.73,325.53 447.12,323.32 442.8,319.37 438.41,321.39" fill="#ff9628"/>
<polygon points="451.42,327.55 455.81,325.34 451.5,321.3 447.12,323.32" fill="#ffb328"/>
<polygon points="460.1,329.67 464.48,327.46 460.19,323.32 455.81,325.34" fill="#ffd328"/>
<polygon points="468.76,331.88 473.14,329.67 468.87,325.44 464.48,327.46" fill="#fff728"/>
<polygon points="377.11,316.58 381.49,314.15 377.1,310.68 372.71,312.92" fill="#ff2e28"/>
<polygon points="385.89,317.9 390.27,315.47 385.88,311.91 381.49,314.15" fill="#ff3628"/>
<polygon points="394.66,319.32 399.04,316.9 394.66,313.24 390.27,315.47" fill="#ff4128"/>
<polygon points="403.41,320.84 407.8,318.42 403.43,314.67 399.04,316.9" fill="#ff4e29"/>
<polygon points="412.16,322.46 416.55,320.05 412.19,316.2 407.8,318.42" fill="#ff5e29"/>
<polygon points="420.9,324.18 425.29,321.78 420.94,317.83 416.55,320.05" fill="#ff7129"/>
<polygon points="429.63,326 434.02,323.6 429.68,319.56 425.29,321.78" fill="#ff8629"/>
<polygon points="438.34,327.93 442.73,325.53 438.41,321.39 434.02,323.6" fill="#ff9f29"/>
<polygon points="447.04,329.95 451.42,327.55 447.12,323.32 442.73,325.53" fill="#ffbc29"/>
<polygon points="455.72,332.07 460.1,329.67 455.81,325.34 451.42,327.55" fill="#ffdc29"/>
<polygon points="464.38,334.28 468.76,331.88 464.48,327.46 460.1,329.67" fill="#ffff29"/>
<polygon points="381.51,320.52 385.89,317.9 381.49,314.15 377.11,316.58" fill="#ff4029"/>
<polygon points="390.28,321.93 394.66,319.32 390.27,315.47 385.89,317.9" fill="#ff4b2a"/>
<polygon points="399.03,323.45 403.41,320.84 399.04,316.9 394.66,319.32" fill="#ff592a"/>
<polygon points="407.78,325.06 412.16,322.46 407.8,318.42 403.41,320.84" fill="#ff692a"/>
<polygon points="416.52,326.78 420.9,324.18 416.55,320.05 412.16,322.46" fill="#ff7c2a"/>
<polygon points="425.25,328.6 429.63,326 425.29,321.78 420.9,324.18" fill="#ff922a"/>
<polygon points="433.96,330.52 438.34,327.93 434.02,323.6 429.63,326" fill="#ffab2a"/>
<polygon points="442.65,332.54 447.04,329.95 442.73,325.53 438.34,327.93" fill="#ffc82a"/>
<polygon points="451.34,334.66 455.72,332.07 451.42,327.55 447.04,329.95" fill="#ffe72a"/>
<polygon points="460,336.88 464.38,334.28 460.1,329.67 455.72,332.07" fill="#f6ff2a"/>
<polygon points="385.91,324.74 390.28,321.93 385.89,317.9 381.51,320.52" fill="#ff582b"/>
<polygon points="394.66,326.25 399.03,323.45 394.66,319.32 390.28,321.93" fill="#ff662b"/>
<polygon points="403.41,327.87 407.78,325.06 403.41,320.84 399.03,323.45" fill="#ff762b"/>
<polygon points="412.14,329.58 416.52,326.78 412.16,322.46 407.78,325.06" fill="#ff8a2b"/>
<polygon points="420.87,331.4 425.25,328.6 420.9,324.18 416.52,326.78" fill="#ffa02b"/>
<polygon points="429.58,333.31 433.96,330.52 429.63,326 425.25,328.6" fill="#ffba2b"/>
<polygon points="438.27,335.33 442.65,332.54 438.34,327.93 433.96,330.52" fill="#ffd62b"/>
<polygon points="446.95,337.45 451.34,334.66 447.04,329.95 442.65,332.54" fill="#fff62b"/>
<polygon points="455.62,339.67 460,336.88 455.72,332.07 451.34,334.66" fill="#ecff2b"/>
<polygon points="390.3,329.26 394.66,326.25 390.28,321.93 385.91,324.74" fill="#ff762c"/>
<polygon points="399.04,330.87 403.41,327.87 399.03,323.45 394.66,326.25" fill="#ff872c"/>
<polygon points="407.77,332.58 412.14,329.58 407.78,325.06 403.41,327.87" fill="#ff9b2c"/>
<polygon points="416.49,334.39 420.87,331.4 416.52,326.78 412.14,329.58" fill="#ffb12c"/>
<polygon points="425.2,336.31 429.58,333.31 425.25,328.6 420.87,331.4" fill="#ffcb2c"/>
<polygon points="433.9,338.32 438.27,335.33 433.96,330.52 429.58,333.31" fill="#ffe72c"/>
<polygon points="442.58,340.44 446.95,337.45 442.65,332.54 438.27,335.33" fill="#f9ff2c"/>
<polygon points="451.24,342.66 455.62,339.67 451.34,334.66 446.95,337.45" fill="#dfff2c"/>
<polygon points="394.68,334.08 399.04,330.87 394.66,326.25 390.3,329.26" fill="#ff9a2d"/>
<polygon points="403.41,335.78 407.77,332.58 403.41,327.87 399.04,330.87" fill="#ffae2d"/>
<polygon points="412.13,337.59 416.49,334.39 412.14,329.58 407.77,332.58" fill="#ffc52d"/>
<polygon points="420.83,339.5 425.2,336.31 420.87,331.4 416.49,334.39" fill="#ffdf2d"/>
<polygon points="429.53,341.52 433.9,338.32 429.58,333.31 425.2,336.31" fill="#fffc2d"/>
<polygon points="438.2,343.63 442.58,340.44 438.27,335.33 433.9,338.32" fill="#eaff2d"/>
<polygon points="446.87,345.85 451.24,342.66 446.95,337.45 442.58,340.44" fill="#d1ff2d"/>
<polygon points="399.05,339.19 403.41,335.78 399.04,330.87 394.68,334.08" fill="#ffc52e"/>
<polygon points="407.77,341 412.13,337.59 407.77,332.58 403.41,335.78" fill="#ffdc2e"/>
<polygon points="416.47,342.91 420.83,339.5 416.49,334.39 412.13,337.59" fill="#fff62e"/>
<polygon points="425.16,344.92 429.53,341.52 425.2,336.31 420.83,339.5" fill="#f0ff2e"/>
<polygon points="433.84,347.03 438.2,343.63 433.9,338.32 429.53,341.52" fill="#d9ff2e"/>
<polygon points="442.5,349.25 446.87,345.85 442.58,340.44 438.2,343.63" fill="#c0ff2e"/>
<polygon points="403.42,344.61 407.77,341 403.41,335.78 399.05,339.19" fill="#fff62f"/>
<polygon points="412.12,346.52 416.47,342.91 412.13,337.59 407.77,341" fill="#f2ff2f"/>
<polygon points="420.8,348.53 425.16,344.92 420.83,339.5 416.47,342.91" fill="#ddff2e"/>
<polygon points="429.47,350.64 433.84,347.03 429.53,341.52 425.16,344.92" fill="#c6ff2e"/>
<polygon points="438.13,352.86 442.5,349.25 438.2,343.63 433.84,347.03" fill="#aeff2e"/>
<polygon points="407.77,350.34 412.12,346.52 407.77,341 403.42,344.61" fill="#dcff2f"/>
<polygon points="416.45,352.35 420.8,348.53 416.47,342.91 412.12,346.52" fill="#c8ff2f"/>
<polygon points="425.12,354.46 429.47,350.64 425.16,344.92 420.8,348.53" fill="#b1ff2f"/>
<polygon points="433.77,356.68 438.13,352.86 433.84,347.03 429.47,350.64" fill="#9aff2f"/>
<polygon points="412.11,356.39 416.45,352.35 412.12,346.52 407.77,350.34" fill="#b0ff30"/>
<polygon points="420.77,358.5 425.12,354.46 420.8,348.53 416.45,352.35" fill="#9bff30"/>
<polygon points="429.42,360.71 433.77,356.68 429.47,350.64 425.12,354.46" fill="#83ff30"/>
<polygon points="416.44,362.75 420.77,358.5 416.45,352.35 412.11,356.39" fill="#82ff30"/>
<polygon points="425.08,364.96 429.42,360.71 425.12,354.46 420.77,358.5" fill="#6bff30"/>
<polygon points="420.75,369.44 425.08,364.96 420.77,358.5 416.44,362.75" fill="#50ff31"/>
</g>
<text x="58.6" y="14.9" font-size="16.5" fill="#000" font-weight="bold" stroke="#000" stroke-width="0.22" text-anchor="middle">A</text>
<text x="425.2" y="17.9" font-size="17.2" fill="#000" textLength="10.6" lengthAdjust="spacingAndGlyphs" font-weight="bold" stroke="#000" stroke-width="0.22" text-anchor="middle">B</text>
<text x="180.8" y="302.7" font-size="17.6" fill="#000" textLength="10.9" lengthAdjust="spacingAndGlyphs" font-weight="bold" stroke="#000" stroke-width="0.22" text-anchor="middle">C</text>
<text x="6.1" y="39.98" font-size="6.9" fill="#111" textLength="65" lengthAdjust="spacingAndGlyphs">Factor Coding: Actual</text>
<text x="6.1" y="64.28" font-size="6.9" fill="#111" textLength="47.77" lengthAdjust="spacingAndGlyphs" font-weight="bold" stroke="#111" stroke-width="0.22">HMF Yield (%)</text>
<circle cx="12.9" cy="74.8" r="3.9" fill="#ffc4c8" stroke="#8a3030" stroke-width="0.6"/>
<text x="20.4" y="77.28" font-size="6.9" fill="#c02a3a" textLength="41.6" lengthAdjust="spacingAndGlyphs">Design Points</text>
<text x="6.1" y="89.68" font-size="6.9" fill="#2b35d8" textLength="6.8" lengthAdjust="spacingAndGlyphs">33</text>
<rect x="19.7" y="81.8" width="24.5" height="10.8" fill="url(#lg)"/>
<text x="47.8" y="89.68" font-size="6.9" fill="#e02020" textLength="10.6" lengthAdjust="spacingAndGlyphs">100</text>
<text x="6.1" y="113.88" font-size="6.9" fill="#111" textLength="20.6" lengthAdjust="spacingAndGlyphs">X1 = A</text>
<text x="6.1" y="126.08" font-size="6.9" fill="#111" textLength="20.6" lengthAdjust="spacingAndGlyphs">X2 = B</text>
<text x="6.1" y="150.68" font-size="6.9" fill="#111" textLength="43.23" lengthAdjust="spacingAndGlyphs" font-weight="bold" stroke="#111" stroke-width="0.22">Actual Factor</text>
<text x="6.1" y="163.08" font-size="6.9" fill="#111" textLength="25.5" lengthAdjust="spacingAndGlyphs">C = 0.03</text>
<text x="328.5" y="45.4" font-size="8.34" fill="#111" textLength="78.5" lengthAdjust="spacingAndGlyphs">Factor Coding: Actual</text>
<text x="328.5" y="74.3" font-size="8.34" fill="#111" textLength="57.7" lengthAdjust="spacingAndGlyphs" font-weight="bold" stroke="#111" stroke-width="0.22">HMF Yield (%)</text>
<circle cx="336.71" cy="88.1" r="4.71" fill="#ffc4c8" stroke="#8a3030" stroke-width="0.6"/>
<text x="345.77" y="91.1" font-size="8.34" fill="#c02a3a" textLength="50.25" lengthAdjust="spacingAndGlyphs">Design Points</text>
<text x="328.5" y="106.2" font-size="8.34" fill="#2b35d8" textLength="8.21" lengthAdjust="spacingAndGlyphs">33</text>
<rect x="344.93" y="96.68" width="29.6" height="13.05" fill="url(#lg)"/>
<text x="378.87" y="106.2" font-size="8.34" fill="#e02020" textLength="12.8" lengthAdjust="spacingAndGlyphs">100</text>
<text x="328.5" y="137.1" font-size="8.34" fill="#111" textLength="24.88" lengthAdjust="spacingAndGlyphs">X1 = A</text>
<text x="328.5" y="152.1" font-size="8.34" fill="#111" textLength="24.88" lengthAdjust="spacingAndGlyphs">X2 = C</text>
<text x="328.5" y="183.1" font-size="8.34" fill="#111" textLength="52.2" lengthAdjust="spacingAndGlyphs" font-weight="bold" stroke="#111" stroke-width="0.22">Actual Factor</text>
<text x="328.5" y="198.1" font-size="8.34" fill="#111" textLength="28.8" lengthAdjust="spacingAndGlyphs">B = 100</text>
<text x="218" y="300.95" font-size="7.91" fill="#111" textLength="74.5" lengthAdjust="spacingAndGlyphs">Factor Coding: Actual</text>
<text x="218" y="327.85" font-size="7.91" fill="#111" textLength="54.76" lengthAdjust="spacingAndGlyphs" font-weight="bold" stroke="#111" stroke-width="0.22">HMF Yield (%)</text>
<circle cx="225.79" cy="339.3" r="4.47" fill="#ffc4c8" stroke="#8a3030" stroke-width="0.6"/>
<text x="234.39" y="342.15" font-size="7.91" fill="#c02a3a" textLength="47.67" lengthAdjust="spacingAndGlyphs">Design Points</text>
<text x="218" y="356.45" font-size="7.91" fill="#2b35d8" textLength="7.79" lengthAdjust="spacingAndGlyphs">33</text>
<rect x="233.59" y="347.41" width="28.08" height="12.38" fill="url(#lg)"/>
<text x="265.79" y="356.45" font-size="7.91" fill="#e02020" textLength="12.15" lengthAdjust="spacingAndGlyphs">100</text>
<text x="218" y="384.45" font-size="7.91" fill="#111" textLength="23.61" lengthAdjust="spacingAndGlyphs">X1 = B</text>
<text x="218" y="398.25" font-size="7.91" fill="#111" textLength="23.61" lengthAdjust="spacingAndGlyphs">X2 = C</text>
<text x="218" y="426.35" font-size="7.91" fill="#111" textLength="49.54" lengthAdjust="spacingAndGlyphs" font-weight="bold" stroke="#111" stroke-width="0.22">Actual Factor</text>
<text x="218" y="440.25" font-size="7.91" fill="#111" textLength="27.4" lengthAdjust="spacingAndGlyphs">A = 100</text>
<text x="111.4" y="32.34" font-size="6.5" fill="#333" textLength="8.55" lengthAdjust="spacingAndGlyphs" text-anchor="end">110</text>
<text x="111.4" y="52.74" font-size="6.5" fill="#333" textLength="5.7" lengthAdjust="spacingAndGlyphs" text-anchor="end">92</text>
<text x="111.4" y="73.14" font-size="6.5" fill="#333" textLength="5.7" lengthAdjust="spacingAndGlyphs" text-anchor="end">74</text>
<text x="111.4" y="93.54" font-size="6.5" fill="#333" textLength="5.7" lengthAdjust="spacingAndGlyphs" text-anchor="end">56</text>
<text x="111.4" y="113.94" font-size="6.5" fill="#333" textLength="5.7" lengthAdjust="spacingAndGlyphs" text-anchor="end">38</text>
<text x="111.4" y="134.34" font-size="6.5" fill="#333" textLength="5.7" lengthAdjust="spacingAndGlyphs" text-anchor="end">20</text>
<text x="213" y="220.74" font-size="6.5" fill="#333" textLength="5.7" lengthAdjust="spacingAndGlyphs" text-anchor="middle">90</text>
<text x="234.6" y="209.02" font-size="6.5" fill="#333" textLength="5.7" lengthAdjust="spacingAndGlyphs" text-anchor="middle">95</text>
<text x="256.2" y="197.29" font-size="6.5" fill="#333" textLength="8.55" lengthAdjust="spacingAndGlyphs" text-anchor="middle">100</text>
<text x="277.8" y="185.56" font-size="6.5" fill="#333" textLength="8.55" lengthAdjust="spacingAndGlyphs" text-anchor="middle">105</text>
<text x="299.4" y="173.84" font-size="6.5" fill="#333" textLength="8.55" lengthAdjust="spacingAndGlyphs" text-anchor="middle">110</text>
<text x="200" y="220.74" font-size="6.5" fill="#333" textLength="5.7" lengthAdjust="spacingAndGlyphs" text-anchor="middle">85</text>
<text x="182.68" y="211.36" font-size="6.5" fill="#333" textLength="5.7" lengthAdjust="spacingAndGlyphs" text-anchor="middle">91</text>
<text x="165.36" y="201.98" font-size="6.5" fill="#333" textLength="5.7" lengthAdjust="spacingAndGlyphs" text-anchor="middle">97</text>
<text x="147.04" y="192.6" font-size="6.5" fill="#333" textLength="8.55" lengthAdjust="spacingAndGlyphs" text-anchor="middle">103</text>
<text x="129.72" y="183.22" font-size="6.5" fill="#333" textLength="8.55" lengthAdjust="spacingAndGlyphs" text-anchor="middle">109</text>
<text x="112.4" y="173.84" font-size="6.5" fill="#333" textLength="8.55" lengthAdjust="spacingAndGlyphs" text-anchor="middle">115</text>
<circle cx="114.7" cy="33.2" r="0.9" fill="#111"/>
<circle cx="115.41" cy="53.6" r="0.9" fill="#111"/>
<circle cx="116.13" cy="74" r="0.9" fill="#111"/>
<circle cx="116.84" cy="94.4" r="0.9" fill="#111"/>
<circle cx="117.56" cy="114.8" r="0.9" fill="#111"/>
<circle cx="118.27" cy="135.2" r="0.9" fill="#111"/>
<circle cx="206" cy="214.4" r="0.9" fill="#111"/>
<circle cx="227.6" cy="202.68" r="0.9" fill="#111"/>
<circle cx="249.2" cy="190.95" r="0.9" fill="#111"/>
<circle cx="270.8" cy="179.22" r="0.9" fill="#111"/>
<circle cx="292.4" cy="167.5" r="0.9" fill="#111"/>
<circle cx="206" cy="214.4" r="0.9" fill="#111"/>
<circle cx="188.68" cy="205.02" r="0.9" fill="#111"/>
<circle cx="171.36" cy="195.64" r="0.9" fill="#111"/>
<circle cx="154.04" cy="186.26" r="0.9" fill="#111"/>
<circle cx="136.72" cy="176.88" r="0.9" fill="#111"/>
<circle cx="119.4" cy="167.5" r="0.9" fill="#111"/>
<text x="92.9" y="100.6" font-size="9" fill="#111" transform="rotate(90 92.9 100.6)" textLength="59.3" lengthAdjust="spacingAndGlyphs" font-weight="bold" stroke="#111" stroke-width="0.22" text-anchor="middle" dominant-baseline="central">HMF Yield (%)</text>
<text x="273.2" y="205" font-size="9.9" fill="#111" transform="rotate(-31 273.2 205)" textLength="97.8" lengthAdjust="spacingAndGlyphs" font-weight="bold" stroke="#111" stroke-width="0.22" text-anchor="middle" dominant-baseline="central">A: Temperature ( ˚C )</text>
<text x="127.1" y="206.8" font-size="9.8" fill="#111" transform="rotate(28.6 127.1 206.8)" textLength="62" lengthAdjust="spacingAndGlyphs" font-weight="bold" stroke="#111" stroke-width="0.22" text-anchor="middle" dominant-baseline="central">B: Time (min)</text>
<text x="459.3" y="34.18" font-size="6.6" fill="#333" textLength="8.55" lengthAdjust="spacingAndGlyphs" text-anchor="end">110</text>
<text x="459.3" y="55.08" font-size="6.6" fill="#333" textLength="5.7" lengthAdjust="spacingAndGlyphs" text-anchor="end">92</text>
<text x="459.3" y="75.98" font-size="6.6" fill="#333" textLength="5.7" lengthAdjust="spacingAndGlyphs" text-anchor="end">74</text>
<text x="459.3" y="96.88" font-size="6.6" fill="#333" textLength="5.7" lengthAdjust="spacingAndGlyphs" text-anchor="end">56</text>
<text x="459.3" y="117.78" font-size="6.6" fill="#333" textLength="5.7" lengthAdjust="spacingAndGlyphs" text-anchor="end">38</text>
<text x="459.3" y="138.68" font-size="6.6" fill="#333" textLength="5.7" lengthAdjust="spacingAndGlyphs" text-anchor="end">20</text>
<text x="561.9" y="227.38" font-size="6.6" fill="#333" textLength="5.7" lengthAdjust="spacingAndGlyphs" text-anchor="middle">90</text>
<text x="583.38" y="215.35" font-size="6.6" fill="#333" textLength="5.7" lengthAdjust="spacingAndGlyphs" text-anchor="middle">95</text>
<text x="604.85" y="203.33" font-size="6.6" fill="#333" textLength="8.55" lengthAdjust="spacingAndGlyphs" text-anchor="middle">100</text>
<text x="626.32" y="191.3" font-size="6.6" fill="#333" textLength="8.55" lengthAdjust="spacingAndGlyphs" text-anchor="middle">105</text>
<text x="647.8" y="179.28" font-size="6.6" fill="#333" textLength="8.55" lengthAdjust="spacingAndGlyphs" text-anchor="middle">110</text>
<text x="546.9" y="227.38" font-size="6.6" fill="#333" textLength="9.95" lengthAdjust="spacingAndGlyphs" text-anchor="middle">0.02</text>
<text x="524.25" y="215.28" font-size="6.6" fill="#333" textLength="12.8" lengthAdjust="spacingAndGlyphs" text-anchor="middle">0.025</text>
<text x="503.6" y="203.18" font-size="6.6" fill="#333" textLength="9.95" lengthAdjust="spacingAndGlyphs" text-anchor="middle">0.03</text>
<text x="480.95" y="191.08" font-size="6.6" fill="#333" textLength="12.8" lengthAdjust="spacingAndGlyphs" text-anchor="middle">0.035</text>
<text x="460.3" y="178.98" font-size="6.6" fill="#333" textLength="9.95" lengthAdjust="spacingAndGlyphs" text-anchor="middle">0.04</text>
<circle cx="462.4" cy="35" r="0.9" fill="#111"/>
<circle cx="463.3" cy="55.9" r="0.9" fill="#111"/>
<circle cx="464.19" cy="76.8" r="0.9" fill="#111"/>
<circle cx="465.09" cy="97.7" r="0.9" fill="#111"/>
<circle cx="465.98" cy="118.61" r="0.9" fill="#111"/>
<circle cx="466.88" cy="139.51" r="0.9" fill="#111"/>
<circle cx="554.9" cy="221" r="0.9" fill="#111"/>
<circle cx="576.38" cy="208.97" r="0.9" fill="#111"/>
<circle cx="597.85" cy="196.95" r="0.9" fill="#111"/>
<circle cx="619.32" cy="184.93" r="0.9" fill="#111"/>
<circle cx="640.8" cy="172.9" r="0.9" fill="#111"/>
<circle cx="554.9" cy="221" r="0.9" fill="#111"/>
<circle cx="533.25" cy="208.9" r="0.9" fill="#111"/>
<circle cx="511.6" cy="196.8" r="0.9" fill="#111"/>
<circle cx="489.95" cy="184.7" r="0.9" fill="#111"/>
<circle cx="468.3" cy="172.6" r="0.9" fill="#111"/>
<text x="441.9" y="95.2" font-size="10" fill="#111" transform="rotate(90 441.9 95.2)" textLength="66.6" lengthAdjust="spacingAndGlyphs" font-weight="bold" stroke="#111" stroke-width="0.22" text-anchor="middle" dominant-baseline="central">HMF Yield (%)</text>
<text x="619.5" y="214.6" font-size="11.4" fill="#111" transform="rotate(-31.6 619.5 214.6)" textLength="104" lengthAdjust="spacingAndGlyphs" font-weight="bold" stroke="#111" stroke-width="0.22" text-anchor="middle" dominant-baseline="central">A: Temperature ( ˚C )</text>
<text x="478.8" y="218" font-size="11" fill="#111" transform="rotate(28.7 478.8 218)" textLength="70.5" lengthAdjust="spacingAndGlyphs" font-weight="bold" stroke="#111" stroke-width="0.22" text-anchor="middle" dominant-baseline="central">C: Catalyst (g)</text>
<text x="330.6" y="285.98" font-size="6.6" fill="#333" textLength="8.55" lengthAdjust="spacingAndGlyphs" text-anchor="end">110</text>
<text x="330.6" y="305.19" font-size="6.6" fill="#333" textLength="5.7" lengthAdjust="spacingAndGlyphs" text-anchor="end">92</text>
<text x="330.6" y="324.41" font-size="6.6" fill="#333" textLength="5.7" lengthAdjust="spacingAndGlyphs" text-anchor="end">74</text>
<text x="330.6" y="343.62" font-size="6.6" fill="#333" textLength="5.7" lengthAdjust="spacingAndGlyphs" text-anchor="end">56</text>
<text x="330.6" y="362.84" font-size="6.6" fill="#333" textLength="5.7" lengthAdjust="spacingAndGlyphs" text-anchor="end">38</text>
<text x="330.6" y="382.05" font-size="6.6" fill="#333" textLength="5.7" lengthAdjust="spacingAndGlyphs" text-anchor="end">20</text>
<text x="428" y="464.48" font-size="6.6" fill="#333" textLength="5.7" lengthAdjust="spacingAndGlyphs" text-anchor="middle">85</text>
<text x="444.7" y="455.56" font-size="6.6" fill="#333" textLength="5.7" lengthAdjust="spacingAndGlyphs" text-anchor="middle">91</text>
<text x="461.4" y="446.64" font-size="6.6" fill="#333" textLength="5.7" lengthAdjust="spacingAndGlyphs" text-anchor="middle">97</text>
<text x="478.1" y="437.72" font-size="6.6" fill="#333" textLength="8.55" lengthAdjust="spacingAndGlyphs" text-anchor="middle">103</text>
<text x="494.8" y="428.8" font-size="6.6" fill="#333" textLength="8.55" lengthAdjust="spacingAndGlyphs" text-anchor="middle">109</text>
<text x="511.5" y="419.88" font-size="6.6" fill="#333" textLength="8.55" lengthAdjust="spacingAndGlyphs" text-anchor="middle">115</text>
<text x="413" y="464.48" font-size="6.6" fill="#333" textLength="9.95" lengthAdjust="spacingAndGlyphs" text-anchor="middle">0.02</text>
<text x="391.32" y="453.28" font-size="6.6" fill="#333" textLength="12.8" lengthAdjust="spacingAndGlyphs" text-anchor="middle">0.025</text>
<text x="371.65" y="442.08" font-size="6.6" fill="#333" textLength="9.95" lengthAdjust="spacingAndGlyphs" text-anchor="middle">0.03</text>
<text x="349.98" y="430.88" font-size="6.6" fill="#333" textLength="12.8" lengthAdjust="spacingAndGlyphs" text-anchor="middle">0.035</text>
<text x="330.3" y="419.68" font-size="6.6" fill="#333" textLength="9.95" lengthAdjust="spacingAndGlyphs" text-anchor="middle">0.04</text>
<circle cx="333" cy="286.8" r="0.9" fill="#111"/>
<circle cx="333.81" cy="306.02" r="0.9" fill="#111"/>
<circle cx="334.61" cy="325.23" r="0.9" fill="#111"/>
<circle cx="335.42" cy="344.45" r="0.9" fill="#111"/>
<circle cx="336.22" cy="363.66" r="0.9" fill="#111"/>
<circle cx="337.03" cy="382.88" r="0.9" fill="#111"/>
<circle cx="421" cy="458.1" r="0.9" fill="#111"/>
<circle cx="437.7" cy="449.18" r="0.9" fill="#111"/>
<circle cx="454.4" cy="440.26" r="0.9" fill="#111"/>
<circle cx="471.1" cy="431.34" r="0.9" fill="#111"/>
<circle cx="487.8" cy="422.42" r="0.9" fill="#111"/>
<circle cx="504.5" cy="413.5" r="0.9" fill="#111"/>
<circle cx="421" cy="458.1" r="0.9" fill="#111"/>
<circle cx="400.32" cy="446.9" r="0.9" fill="#111"/>
<circle cx="379.65" cy="435.7" r="0.9" fill="#111"/>
<circle cx="358.98" cy="424.5" r="0.9" fill="#111"/>
<circle cx="338.3" cy="413.3" r="0.9" fill="#111"/>
<text x="307.7" y="352.4" font-size="9.6" fill="#111" transform="rotate(90 307.7 352.4)" textLength="63.7" lengthAdjust="spacingAndGlyphs" font-weight="bold" stroke="#111" stroke-width="0.22" text-anchor="middle" dominant-baseline="central">HMF Yield (%)</text>
<text x="477.5" y="454" font-size="11.7" fill="#111" transform="rotate(-31.3 477.5 454)" textLength="72.4" lengthAdjust="spacingAndGlyphs" font-weight="bold" stroke="#111" stroke-width="0.22" text-anchor="middle" dominant-baseline="central">B: Time (min)</text>
<text x="356.3" y="454.7" font-size="11.3" fill="#111" transform="rotate(29.4 356.3 454.7)" textLength="72.9" lengthAdjust="spacingAndGlyphs" font-weight="bold" stroke="#111" stroke-width="0.22" text-anchor="middle" dominant-baseline="central">C: Catalyst (g)</text>
</g>
</svg>
</body></html>
